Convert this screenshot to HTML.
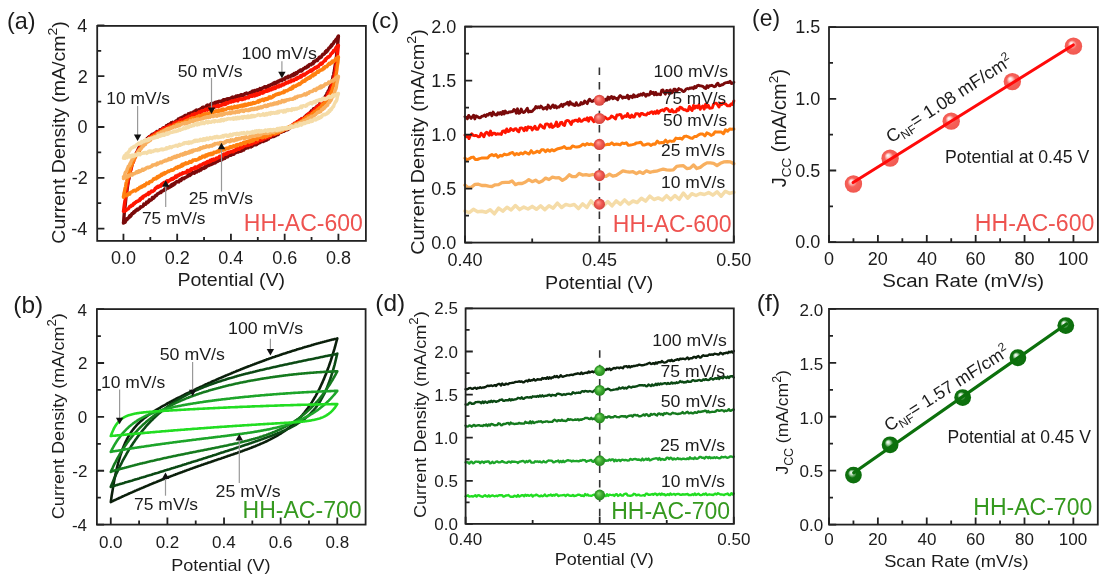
<!DOCTYPE html><html><head><meta charset="utf-8"><style>html,body{margin:0;padding:0;background:#fff;width:1116px;height:585px;overflow:hidden}svg{display:block;filter:blur(0.35px)}text{font-family:"Liberation Sans", sans-serif}</style></head><body>
<svg width="1116" height="585" viewBox="0 0 1116 585">
<defs>
<radialGradient id="grs" cx="0.5" cy="0.5" r="0.5" fx="0.38" fy="0.32"><stop offset="0" stop-color="#ffa59c"/><stop offset="0.55" stop-color="#f25a52"/><stop offset="1" stop-color="#d2443e"/></radialGradient>
<radialGradient id="gr" cx="0.5" cy="0.5" r="0.5" fx="0.36" fy="0.33"><stop offset="0" stop-color="#ffffff"/><stop offset="0.2" stop-color="#fdd4d0"/><stop offset="0.52" stop-color="#f6625a"/><stop offset="1" stop-color="#f15850"/></radialGradient>
<radialGradient id="ggs" cx="0.5" cy="0.5" r="0.5" fx="0.38" fy="0.32"><stop offset="0" stop-color="#86e070"/><stop offset="0.55" stop-color="#3daa30"/><stop offset="1" stop-color="#23861d"/></radialGradient>
<radialGradient id="gg" cx="0.5" cy="0.5" r="0.5" fx="0.36" fy="0.33"><stop offset="0" stop-color="#ffffff"/><stop offset="0.2" stop-color="#c0e0c0"/><stop offset="0.5" stop-color="#0f720f"/><stop offset="1" stop-color="#0c6e0c"/></radialGradient>
</defs>
<rect width="1116" height="585" fill="#fff"/>
<path d="M123.5 223.1L124.0 216.6L124.5 210.2L125.1 205.8L125.6 200.8L126.1 196.1L126.7 192.7L127.2 188.2L127.8 184.4L128.3 180.9L128.8 179.1L129.4 175.9L129.9 173.6L130.4 169.9L131.0 167.9L131.5 166.9L132.1 163.3L132.6 161.5L133.1 160.4L133.7 158.9L134.2 158.2L134.7 157.1L135.3 154.9L135.8 154.5L136.3 153.2L136.9 152.0L137.4 151.4L138.0 149.7L138.5 148.8L139.0 147.3L139.6 147.1L140.1 146.1L140.6 145.6L141.2 144.7L141.7 144.4L142.3 144.1L142.8 142.2L143.3 141.6L143.9 141.4L144.4 141.1L144.9 141.2L145.5 140.9L146.0 140.3L146.6 140.2L147.1 138.6L147.6 138.8L148.2 137.6L148.7 138.0L149.2 136.5L149.8 136.3L150.3 137.5L150.9 136.7L151.4 135.1L151.9 135.5L152.5 134.2L153.0 134.9L153.5 135.1L154.1 133.8L154.6 133.2L155.2 133.7L155.7 133.7L156.2 132.9L156.8 131.5L157.3 131.5L157.8 132.3L158.4 131.7L158.9 131.7L159.5 131.4L160.0 129.8L160.5 130.6L161.1 129.6L161.6 129.4L162.1 129.6L162.7 128.3L163.2 129.0L163.8 127.8L164.3 128.4L164.8 127.5L165.4 127.6L165.9 127.2L166.4 125.6L167.0 125.6L167.5 126.2L168.1 124.8L168.6 125.7L169.1 125.1L169.7 124.0L170.2 124.1L170.7 124.7L171.3 122.8L171.8 123.9L172.4 123.5L172.9 122.3L173.4 122.8L174.0 122.6L174.5 122.7L175.0 122.3L175.6 121.2L176.1 121.5L176.7 120.6L177.2 120.7L177.7 120.2L178.3 119.1L178.8 119.6L179.3 119.2L179.9 118.4L180.4 119.3L181.0 119.1L181.5 117.4L182.0 117.3L182.6 118.1L183.1 117.9L183.6 116.6L184.2 116.0L184.7 117.1L185.3 115.4L185.8 115.3L186.3 115.5L186.9 115.6L187.4 115.9L187.9 115.7L188.5 113.8L189.0 114.8L189.6 113.7L190.1 114.3L190.6 113.0L191.2 113.2L191.7 113.4L192.2 113.4L192.8 112.2L193.3 113.1L193.9 112.5L194.4 111.7L194.9 110.9L195.5 111.1L196.0 111.4L196.5 110.1L197.1 111.1L197.6 111.2L198.2 110.5L198.7 109.9L199.2 110.4L199.8 109.9L200.3 109.3L200.8 108.7L201.4 109.3L201.9 108.6L202.4 107.5L203.0 107.1L203.5 107.4L204.1 107.1L204.6 107.1L205.1 107.7L205.7 107.6L206.2 107.4L206.7 105.6L207.3 105.8L207.8 105.1L208.4 106.6L208.9 105.3L209.4 105.3L210.0 104.7L210.5 105.2L211.0 103.8L211.6 105.3L212.1 104.2L212.7 103.7L213.2 103.2L213.7 103.3L214.3 103.2L214.8 102.8L215.3 102.4L215.9 103.3L216.4 102.5L217.0 101.9L217.5 101.8L218.0 102.4L218.6 101.6L219.1 101.3L219.6 101.6L220.2 101.4L220.7 101.6L221.3 101.1L221.8 100.9L222.3 101.7L222.9 100.5L223.4 99.7L223.9 99.7L224.5 99.8L225.0 100.3L225.6 99.5L226.1 99.6L226.6 99.7L227.2 98.9L227.7 100.0L228.2 98.7L228.8 99.8L229.3 98.6L229.9 98.7L230.4 99.0L230.9 98.0L231.5 98.2L232.0 97.8L232.5 97.1L233.1 98.2L233.6 98.5L234.2 97.8L234.7 97.0L235.2 97.7L235.8 97.6L236.3 96.1L236.8 96.4L237.4 96.6L237.9 95.7L238.5 96.5L239.0 95.8L239.5 96.4L240.1 95.9L240.6 95.0L241.1 94.7L241.7 94.6L242.2 95.3L242.8 94.8L243.3 95.1L243.8 95.3L244.4 94.5L244.9 93.7L245.4 93.5L246.0 93.6L246.5 93.0L247.1 94.0L247.6 94.1L248.1 93.4L248.7 93.5L249.2 93.5L249.7 92.9L250.3 92.4L250.8 92.5L251.4 92.6L251.9 91.5L252.4 91.1L253.0 91.8L253.5 92.3L254.0 92.2L254.6 90.5L255.1 91.8L255.7 90.4L256.2 90.5L256.7 90.8L257.3 89.7L257.8 90.9L258.3 90.5L258.9 89.7L259.4 90.3L260.0 88.6L260.5 89.5L261.0 89.5L261.6 89.4L262.1 88.2L262.6 88.3L263.2 87.8L263.7 87.5L264.3 87.0L264.8 86.6L265.3 86.8L265.9 87.5L266.4 86.8L266.9 87.1L267.5 87.2L268.0 86.1L268.5 85.5L269.1 86.2L269.6 85.8L270.2 85.5L270.7 84.6L271.2 84.7L271.8 84.3L272.3 83.9L272.8 84.3L273.4 83.3L273.9 82.9L274.5 84.1L275.0 82.4L275.5 82.5L276.1 83.4L276.6 82.6L277.1 82.0L277.7 81.3L278.2 82.0L278.8 81.4L279.3 80.6L279.8 80.5L280.4 80.0L280.9 80.6L281.4 80.1L282.0 80.6L282.5 79.4L283.1 79.0L283.6 79.1L284.1 78.7L284.7 79.3L285.2 77.9L285.7 77.5L286.3 77.2L286.8 77.8L287.4 77.1L287.9 77.6L288.4 76.3L289.0 76.2L289.5 76.8L290.0 77.0L290.6 76.1L291.1 75.7L291.7 75.0L292.2 75.3L292.7 75.8L293.3 74.2L293.8 75.2L294.3 73.6L294.9 74.5L295.4 73.9L296.0 72.8L296.5 73.7L297.0 73.4L297.6 72.4L298.1 71.8L298.6 71.3L299.2 71.2L299.7 70.5L300.3 71.0L300.8 69.9L301.3 71.1L301.9 70.5L302.4 69.7L302.9 69.8L303.5 68.7L304.0 68.5L304.6 68.4L305.1 67.5L305.6 67.7L306.2 67.8L306.7 67.3L307.2 66.2L307.8 65.7L308.3 66.6L308.9 65.1L309.4 64.5L309.9 65.0L310.5 64.5L311.0 64.8L311.5 63.9L312.1 63.5L312.6 63.0L313.2 63.6L313.7 61.6L314.2 62.0L314.8 61.8L315.3 60.7L315.8 60.7L316.4 60.5L316.9 59.7L317.5 60.4L318.0 59.1L318.5 58.9L319.1 57.5L319.6 57.1L320.1 57.8L320.7 57.0L321.2 57.1L321.8 56.1L322.3 54.9L322.8 54.2L323.4 54.4L323.9 54.2L324.4 53.9L325.0 52.6L325.5 51.4L326.1 52.3L326.6 50.5L327.1 51.3L327.7 50.4L328.2 49.7L328.7 48.3L329.3 48.3L329.8 47.6L330.4 46.5L330.9 46.8L331.4 45.0L332.0 45.4L332.5 44.0L333.0 43.8L333.6 43.2L334.1 41.9L334.7 41.4L335.2 40.8L335.7 40.0L336.3 39.1L336.8 39.0L337.3 38.2L337.9 36.7L338.4 36.0L338.4 36.2L337.9 42.1L337.3 48.3L336.8 52.9L336.3 58.6L335.7 61.8L335.2 65.3L334.7 68.4L334.1 72.4L333.6 75.1L333.0 76.4L332.5 79.9L332.0 80.5L331.4 82.5L330.9 85.5L330.4 86.8L329.8 87.4L329.3 89.5L328.7 91.0L328.2 90.9L327.7 92.7L327.1 93.0L326.6 95.1L326.1 95.5L325.5 95.9L325.0 97.9L324.4 98.3L323.9 98.2L323.4 98.6L322.8 99.1L322.3 101.3L321.8 101.3L321.2 101.5L320.7 102.5L320.1 102.8L319.6 104.3L319.1 105.1L318.5 105.6L318.0 106.3L317.5 105.9L316.9 106.5L316.4 106.9L315.8 108.2L315.3 108.6L314.8 109.1L314.2 108.5L313.7 108.7L313.2 109.3L312.6 111.3L312.1 111.8L311.5 110.7L311.0 112.0L310.5 112.0L309.9 113.2L309.4 113.4L308.9 113.8L308.3 114.4L307.8 114.5L307.2 116.0L306.7 115.2L306.2 115.4L305.6 117.0L305.1 117.0L304.6 116.9L304.0 117.9L303.5 118.7L302.9 119.1L302.4 118.9L301.9 120.2L301.3 119.0L300.8 119.6L300.3 120.2L299.7 120.3L299.2 121.1L298.6 121.9L298.1 121.9L297.6 122.4L297.0 122.0L296.5 122.6L296.0 124.0L295.4 123.2L294.9 123.8L294.3 124.1L293.8 124.4L293.3 125.5L292.7 124.9L292.2 125.3L291.7 126.0L291.1 126.2L290.6 126.5L290.0 127.5L289.5 127.2L289.0 128.7L288.4 128.5L287.9 128.6L287.4 129.7L286.8 129.4L286.3 129.2L285.7 129.6L285.2 130.6L284.7 129.6L284.1 130.4L283.6 131.3L283.1 131.0L282.5 131.4L282.0 131.8L281.4 132.3L280.9 131.5L280.4 132.4L279.8 132.6L279.3 132.8L278.8 132.7L278.2 134.6L277.7 133.8L277.1 133.9L276.6 135.0L276.1 135.0L275.5 135.9L275.0 135.9L274.5 135.8L273.9 136.6L273.4 136.6L272.8 135.7L272.3 136.6L271.8 136.9L271.2 136.3L270.7 137.3L270.2 136.8L269.6 137.6L269.1 137.6L268.5 139.1L268.0 138.5L267.5 138.4L266.9 139.9L266.4 138.6L265.9 140.2L265.3 139.9L264.8 140.7L264.3 140.3L263.7 140.4L263.2 141.6L262.6 140.2L262.1 141.4L261.6 141.4L261.0 141.6L260.5 142.2L260.0 142.6L259.4 142.2L258.9 142.6L258.3 143.3L257.8 142.7L257.3 143.7L256.7 144.5L256.2 144.3L255.7 144.9L255.1 144.9L254.6 144.1L254.0 144.9L253.5 144.3L253.0 144.8L252.4 146.2L251.9 144.8L251.4 145.1L250.8 146.9L250.3 145.7L249.7 146.7L249.2 146.9L248.7 146.2L248.1 147.8L247.6 147.5L247.1 147.0L246.5 147.6L246.0 148.3L245.4 147.6L244.9 148.1L244.4 148.7L243.8 149.9L243.3 149.2L242.8 149.7L242.2 150.4L241.7 150.9L241.1 150.3L240.6 151.2L240.1 150.9L239.5 150.7L239.0 151.4L238.5 151.9L237.9 151.6L237.4 152.1L236.8 151.7L236.3 152.4L235.8 151.8L235.2 152.1L234.7 152.7L234.2 153.9L233.6 154.3L233.1 153.2L232.5 153.6L232.0 154.1L231.5 154.9L230.9 155.2L230.4 154.8L229.9 155.2L229.3 155.4L228.8 155.6L228.2 155.6L227.7 156.8L227.2 157.0L226.6 155.9L226.1 156.3L225.6 156.6L225.0 158.3L224.5 158.5L223.9 158.4L223.4 158.4L222.9 158.3L222.3 159.5L221.8 158.9L221.3 160.0L220.7 160.3L220.2 159.5L219.6 159.9L219.1 160.0L218.6 160.8L218.0 160.8L217.5 161.6L217.0 161.6L216.4 161.1L215.9 161.2L215.3 162.8L214.8 163.0L214.3 162.0L213.7 162.6L213.2 162.6L212.7 163.9L212.1 163.8L211.6 164.3L211.0 163.6L210.5 164.7L210.0 164.4L209.4 164.1L208.9 165.5L208.4 165.4L207.8 165.3L207.3 165.3L206.7 166.4L206.2 166.8L205.7 167.5L205.1 166.4L204.6 168.1L204.1 168.4L203.5 167.8L203.0 168.2L202.4 168.1L201.9 169.1L201.4 168.5L200.8 170.0L200.3 170.1L199.8 169.6L199.2 170.9L198.7 170.7L198.2 170.3L197.6 170.6L197.1 171.6L196.5 172.1L196.0 172.0L195.5 171.6L194.9 172.6L194.4 173.3L193.9 172.5L193.3 173.0L192.8 172.7L192.2 172.9L191.7 173.3L191.2 174.4L190.6 174.0L190.1 175.2L189.6 175.5L189.0 175.6L188.5 174.9L187.9 175.3L187.4 176.7L186.9 176.8L186.3 177.1L185.8 177.4L185.3 177.6L184.7 177.9L184.2 178.6L183.6 178.2L183.1 178.1L182.6 178.9L182.0 178.6L181.5 179.4L181.0 180.4L180.4 179.7L179.9 179.8L179.3 181.1L178.8 181.9L178.3 181.3L177.7 181.6L177.2 181.9L176.7 181.5L176.1 182.4L175.6 182.4L175.0 184.0L174.5 183.5L174.0 183.4L173.4 185.0L172.9 185.3L172.4 184.5L171.8 184.5L171.3 186.3L170.7 185.7L170.2 186.9L169.7 186.1L169.1 186.7L168.6 187.7L168.1 188.1L167.5 187.5L167.0 188.3L166.4 188.2L165.9 189.2L165.4 189.7L164.8 188.9L164.3 189.8L163.8 190.5L163.2 190.8L162.7 190.8L162.1 191.2L161.6 191.2L161.1 192.5L160.5 192.1L160.0 192.8L159.5 192.8L158.9 193.3L158.4 193.6L157.8 193.9L157.3 194.1L156.8 195.1L156.2 195.6L155.7 195.7L155.2 195.9L154.6 197.0L154.1 197.4L153.5 198.2L153.0 197.6L152.5 197.5L151.9 199.0L151.4 199.8L150.9 200.1L150.3 200.1L149.8 200.7L149.2 199.9L148.7 201.9L148.2 201.9L147.6 202.6L147.1 202.0L146.6 202.2L146.0 203.7L145.5 204.3L144.9 204.0L144.4 204.2L143.9 204.0L143.3 205.9L142.8 206.2L142.3 206.5L141.7 206.8L141.2 207.2L140.6 206.8L140.1 207.4L139.6 208.5L139.0 208.9L138.5 209.2L138.0 209.8L137.4 209.1L136.9 210.4L136.3 210.4L135.8 210.3L135.3 211.4L134.7 212.2L134.2 211.6L133.7 212.0L133.1 213.5L132.6 213.7L132.1 213.5L131.5 214.8L131.0 215.8L130.4 216.6L129.9 215.6L129.4 216.4L128.8 217.7L128.3 218.0L127.8 218.5L127.2 219.5L126.7 218.8L126.1 219.9L125.6 221.2L125.1 222.2L124.5 221.9L124.0 222.7L123.5 222.5" stroke="#7A0A0A" stroke-width="3.40" fill="none" stroke-linejoin="round" stroke-linecap="round"/>
<path d="M123.5 211.4L124.0 207.2L124.5 203.8L125.1 199.9L125.6 195.9L126.1 192.6L126.7 188.2L127.2 185.8L127.8 182.7L128.3 179.4L128.8 178.2L129.4 175.3L129.9 173.7L130.4 170.5L131.0 169.9L131.5 166.5L132.1 164.7L132.6 163.1L133.1 162.8L133.7 161.0L134.2 158.7L134.7 158.5L135.3 156.5L135.8 155.4L136.3 153.4L136.9 152.9L137.4 151.4L138.0 151.4L138.5 149.6L139.0 149.4L139.6 147.7L140.1 148.3L140.6 146.3L141.2 146.6L141.7 145.3L142.3 144.7L142.8 144.7L143.3 142.9L143.9 143.2L144.4 142.6L144.9 142.5L145.5 141.6L146.0 140.8L146.6 139.8L147.1 140.0L147.6 138.9L148.2 139.5L148.7 138.6L149.2 138.0L149.8 136.7L150.3 136.5L150.9 136.4L151.4 137.2L151.9 136.2L152.5 135.2L153.0 135.7L153.5 134.8L154.1 134.6L154.6 135.0L155.2 133.0L155.7 133.0L156.2 133.7L156.8 132.6L157.3 132.9L157.8 132.4L158.4 131.8L158.9 131.9L159.5 131.6L160.0 131.2L160.5 130.4L161.1 130.8L161.6 130.6L162.1 129.4L162.7 129.8L163.2 128.4L163.8 128.8L164.3 128.2L164.8 128.6L165.4 127.4L165.9 128.5L166.4 128.1L167.0 127.9L167.5 126.6L168.1 126.2L168.6 126.9L169.1 126.2L169.7 125.2L170.2 125.4L170.7 126.0L171.3 125.5L171.8 125.3L172.4 125.1L172.9 124.4L173.4 124.7L174.0 122.9L174.5 123.5L175.0 123.1L175.6 122.6L176.1 122.2L176.7 121.8L177.2 122.3L177.7 122.2L178.3 121.8L178.8 122.2L179.3 121.3L179.9 120.5L180.4 119.8L181.0 119.9L181.5 119.8L182.0 119.7L182.6 120.5L183.1 119.7L183.6 119.4L184.2 118.6L184.7 119.4L185.3 118.6L185.8 118.2L186.3 117.4L186.9 117.1L187.4 117.3L187.9 117.9L188.5 116.5L189.0 116.1L189.6 116.5L190.1 116.6L190.6 116.1L191.2 116.5L191.7 115.3L192.2 114.5L192.8 115.1L193.3 114.6L193.9 114.1L194.4 115.0L194.9 113.5L195.5 113.8L196.0 114.4L196.5 114.4L197.1 113.9L197.6 113.1L198.2 112.6L198.7 113.1L199.2 111.8L199.8 112.6L200.3 112.2L200.8 112.6L201.4 110.9L201.9 112.1L202.4 110.6L203.0 111.0L203.5 110.8L204.1 110.6L204.6 110.9L205.1 109.5L205.7 109.2L206.2 109.3L206.7 109.5L207.3 110.1L207.8 108.7L208.4 109.5L208.9 108.2L209.4 109.2L210.0 108.4L210.5 107.7L211.0 108.7L211.6 107.9L212.1 108.5L212.7 108.4L213.2 108.0L213.7 106.4L214.3 106.3L214.8 106.6L215.3 107.0L215.9 106.2L216.4 105.9L217.0 106.4L217.5 105.9L218.0 105.3L218.6 106.5L219.1 106.0L219.6 105.4L220.2 105.8L220.7 105.2L221.3 104.7L221.8 105.3L222.3 104.5L222.9 104.8L223.4 104.1L223.9 104.4L224.5 103.6L225.0 104.6L225.6 103.3L226.1 104.1L226.6 102.5L227.2 102.9L227.7 103.0L228.2 103.0L228.8 102.4L229.3 102.2L229.9 101.9L230.4 101.7L230.9 102.1L231.5 101.0L232.0 101.1L232.5 101.0L233.1 101.6L233.6 101.4L234.2 101.0L234.7 100.3L235.2 100.8L235.8 100.6L236.3 100.6L236.8 99.7L237.4 100.5L237.9 100.9L238.5 99.5L239.0 99.1L239.5 99.2L240.1 99.3L240.6 98.9L241.1 99.5L241.7 98.8L242.2 99.6L242.8 99.4L243.3 98.6L243.8 98.4L244.4 98.4L244.9 98.9L245.4 97.6L246.0 97.7L246.5 98.1L247.1 97.8L247.6 97.5L248.1 97.6L248.7 97.7L249.2 96.1L249.7 95.8L250.3 96.2L250.8 95.7L251.4 96.3L251.9 95.4L252.4 96.3L253.0 95.2L253.5 95.4L254.0 94.6L254.6 95.9L255.1 94.4L255.7 95.5L256.2 94.5L256.7 93.6L257.3 95.1L257.8 94.5L258.3 94.3L258.9 94.0L259.4 94.3L260.0 92.6L260.5 92.6L261.0 93.2L261.6 93.0L262.1 92.4L262.6 93.2L263.2 93.0L263.7 91.3L264.3 92.2L264.8 91.6L265.3 90.7L265.9 90.4L266.4 91.1L266.9 91.4L267.5 91.0L268.0 89.7L268.5 89.5L269.1 90.6L269.6 89.2L270.2 89.9L270.7 89.5L271.2 89.8L271.8 88.3L272.3 87.9L272.8 89.1L273.4 88.1L273.9 88.7L274.5 87.3L275.0 88.5L275.5 88.2L276.1 86.9L276.6 87.4L277.1 86.2L277.7 86.0L278.2 86.1L278.8 86.9L279.3 85.7L279.8 85.0L280.4 85.7L280.9 86.1L281.4 85.6L282.0 85.3L282.5 84.3L283.1 85.0L283.6 84.8L284.1 84.5L284.7 83.5L285.2 83.0L285.7 83.6L286.3 82.8L286.8 82.2L287.4 82.5L287.9 82.9L288.4 82.5L289.0 81.2L289.5 81.4L290.0 81.9L290.6 81.0L291.1 81.7L291.7 79.9L292.2 80.6L292.7 80.2L293.3 80.0L293.8 80.6L294.3 79.4L294.9 79.7L295.4 79.5L296.0 78.3L296.5 79.3L297.0 78.7L297.6 77.6L298.1 78.2L298.6 77.9L299.2 77.2L299.7 77.5L300.3 76.0L300.8 75.6L301.3 77.0L301.9 75.9L302.4 75.1L302.9 75.5L303.5 74.3L304.0 74.7L304.6 75.0L305.1 74.0L305.6 73.6L306.2 73.8L306.7 73.0L307.2 72.4L307.8 72.6L308.3 72.3L308.9 71.4L309.4 71.3L309.9 71.3L310.5 70.2L311.0 71.3L311.5 69.9L312.1 70.6L312.6 69.5L313.2 69.8L313.7 69.1L314.2 68.2L314.8 67.8L315.3 67.4L315.8 68.1L316.4 67.3L316.9 67.4L317.5 66.4L318.0 66.1L318.5 66.6L319.1 65.2L319.6 64.6L320.1 64.4L320.7 63.4L321.2 64.2L321.8 63.8L322.3 63.6L322.8 62.3L323.4 61.9L323.9 61.4L324.4 61.2L325.0 59.8L325.5 60.5L326.1 58.5L326.6 58.6L327.1 58.1L327.7 57.1L328.2 57.5L328.7 57.1L329.3 56.3L329.8 56.1L330.4 55.1L330.9 53.9L331.4 53.5L332.0 53.3L332.5 52.2L333.0 52.4L333.6 50.5L334.1 51.0L334.7 50.2L335.2 49.7L335.7 48.1L336.3 47.2L336.8 46.6L337.3 47.3L337.9 46.0L338.4 45.4L338.4 45.6L337.9 50.0L337.3 56.7L336.8 60.4L336.3 64.0L335.7 67.2L335.2 71.9L334.7 74.2L334.1 76.3L333.6 79.9L333.0 81.7L332.5 82.5L332.0 85.6L331.4 86.8L330.9 88.4L330.4 89.6L329.8 91.4L329.3 92.7L328.7 92.1L328.2 93.5L327.7 94.5L327.1 96.3L326.6 97.1L326.1 97.4L325.5 98.7L325.0 99.0L324.4 98.9L323.9 100.6L323.4 101.3L322.8 100.8L322.3 102.0L321.8 103.6L321.2 103.6L320.7 103.7L320.1 105.3L319.6 105.3L319.1 105.2L318.5 105.4L318.0 106.4L317.5 106.4L316.9 107.6L316.4 108.2L315.8 107.9L315.3 109.2L314.8 108.9L314.2 110.4L313.7 110.6L313.2 111.3L312.6 111.1L312.1 112.2L311.5 112.6L311.0 113.0L310.5 113.0L309.9 113.7L309.4 113.9L308.9 113.3L308.3 114.3L307.8 114.3L307.2 115.9L306.7 116.0L306.2 116.9L305.6 116.2L305.1 117.2L304.6 117.8L304.0 118.6L303.5 118.7L302.9 118.9L302.4 119.0L301.9 118.5L301.3 119.2L300.8 120.4L300.3 120.6L299.7 121.3L299.2 120.2L298.6 121.6L298.1 121.2L297.6 121.6L297.0 121.7L296.5 123.6L296.0 123.4L295.4 123.6L294.9 124.4L294.3 123.3L293.8 124.7L293.3 124.2L292.7 124.9L292.2 126.1L291.7 125.8L291.1 126.3L290.6 127.0L290.0 127.1L289.5 126.6L289.0 127.9L288.4 127.7L287.9 127.8L287.4 127.8L286.8 128.8L286.3 128.1L285.7 129.2L285.2 128.6L284.7 129.0L284.1 130.2L283.6 130.3L283.1 130.5L282.5 130.0L282.0 130.8L281.4 131.1L280.9 130.5L280.4 131.9L279.8 132.0L279.3 132.2L278.8 132.6L278.2 133.2L277.7 133.5L277.1 132.6L276.6 133.0L276.1 132.8L275.5 132.7L275.0 134.2L274.5 133.8L273.9 133.6L273.4 135.0L272.8 134.4L272.3 134.7L271.8 134.4L271.2 134.8L270.7 136.2L270.2 135.7L269.6 136.9L269.1 136.5L268.5 136.8L268.0 137.6L267.5 137.2L266.9 137.6L266.4 137.5L265.9 138.1L265.3 138.5L264.8 138.3L264.3 138.4L263.7 139.2L263.2 138.5L262.6 139.5L262.1 140.0L261.6 139.7L261.0 139.8L260.5 140.5L260.0 140.0L259.4 140.0L258.9 140.4L258.3 140.4L257.8 141.8L257.3 141.4L256.7 141.6L256.2 142.4L255.7 142.0L255.1 142.8L254.6 142.3L254.0 142.3L253.5 142.7L253.0 143.2L252.4 143.6L251.9 144.2L251.4 143.8L250.8 143.1L250.3 143.9L249.7 144.6L249.2 144.1L248.7 145.2L248.1 144.9L247.6 144.9L247.1 144.5L246.5 145.7L246.0 145.6L245.4 145.1L244.9 145.7L244.4 146.1L243.8 146.4L243.3 147.0L242.8 147.2L242.2 147.6L241.7 146.9L241.1 147.0L240.6 148.1L240.1 147.4L239.5 149.2L239.0 149.2L238.5 148.8L237.9 149.3L237.4 149.5L236.8 148.6L236.3 150.3L235.8 150.4L235.2 150.6L234.7 150.0L234.2 151.0L233.6 151.7L233.1 150.9L232.5 151.4L232.0 151.9L231.5 151.7L230.9 151.6L230.4 152.0L229.9 152.1L229.3 152.5L228.8 152.2L228.2 152.2L227.7 153.5L227.2 153.8L226.6 153.0L226.1 154.3L225.6 153.8L225.0 154.1L224.5 154.3L223.9 154.0L223.4 154.5L222.9 155.9L222.3 155.3L221.8 155.8L221.3 155.9L220.7 156.5L220.2 156.9L219.6 156.3L219.1 156.9L218.6 157.7L218.0 157.9L217.5 158.0L217.0 158.5L216.4 158.1L215.9 159.1L215.3 159.4L214.8 159.6L214.3 159.8L213.7 159.0L213.2 160.3L212.7 159.9L212.1 159.6L211.6 160.4L211.0 161.2L210.5 160.2L210.0 160.4L209.4 162.1L208.9 162.0L208.4 161.8L207.8 161.5L207.3 162.5L206.7 162.1L206.2 163.2L205.7 162.6L205.1 163.6L204.6 163.8L204.1 163.3L203.5 163.4L203.0 163.7L202.4 164.4L201.9 164.9L201.4 164.6L200.8 165.0L200.3 164.9L199.8 165.2L199.2 166.7L198.7 166.4L198.2 166.2L197.6 167.2L197.1 167.5L196.5 168.1L196.0 167.3L195.5 166.9L194.9 167.1L194.4 168.8L193.9 168.1L193.3 168.8L192.8 168.6L192.2 169.3L191.7 168.6L191.2 168.7L190.6 170.6L190.1 169.7L189.6 171.0L189.0 171.4L188.5 171.2L187.9 170.6L187.4 170.4L186.9 172.2L186.3 172.1L185.8 172.8L185.3 172.2L184.7 172.5L184.2 173.0L183.6 173.3L183.1 172.7L182.6 172.9L182.0 174.1L181.5 174.2L181.0 174.0L180.4 174.0L179.9 173.9L179.3 175.2L178.8 174.9L178.3 175.5L177.7 175.3L177.2 176.7L176.7 176.9L176.1 177.3L175.6 176.1L175.0 177.6L174.5 177.4L174.0 178.4L173.4 178.3L172.9 179.1L172.4 178.4L171.8 179.5L171.3 178.9L170.7 179.8L170.2 180.2L169.7 180.0L169.1 180.5L168.6 181.0L168.1 181.7L167.5 182.0L167.0 180.8L166.4 182.1L165.9 182.9L165.4 183.0L164.8 182.8L164.3 182.2L163.8 183.9L163.2 183.1L162.7 184.1L162.1 184.5L161.6 184.2L161.1 185.3L160.5 186.2L160.0 185.7L159.5 185.8L158.9 186.2L158.4 187.2L157.8 186.4L157.3 186.8L156.8 187.0L156.2 188.3L155.7 188.0L155.2 188.5L154.6 189.8L154.1 190.5L153.5 190.6L153.0 191.0L152.5 191.5L151.9 191.3L151.4 191.0L150.9 192.1L150.3 192.2L149.8 193.4L149.2 193.4L148.7 192.5L148.2 194.5L147.6 194.0L147.1 193.9L146.6 194.3L146.0 194.7L145.5 195.7L144.9 195.4L144.4 195.7L143.9 196.2L143.3 196.2L142.8 198.1L142.3 197.0L141.7 198.4L141.2 198.2L140.6 199.4L140.1 198.6L139.6 200.6L139.0 200.0L138.5 201.0L138.0 201.1L137.4 201.5L136.9 201.3L136.3 201.5L135.8 202.6L135.3 202.5L134.7 203.4L134.2 204.0L133.7 203.3L133.1 204.7L132.6 205.5L132.1 205.5L131.5 205.2L131.0 206.5L130.4 206.0L129.9 206.7L129.4 206.9L128.8 208.2L128.3 208.8L127.8 209.1L127.2 209.2L126.7 209.4L126.1 210.6L125.6 210.1L125.1 210.7L124.5 211.3L124.0 211.3L123.5 211.0" stroke="#FF1500" stroke-width="3.40" fill="none" stroke-linejoin="round" stroke-linecap="round"/>
<path d="M123.5 197.3L124.0 193.2L124.5 191.5L125.1 188.1L125.6 186.8L126.1 182.9L126.7 181.6L127.2 178.5L127.8 177.8L128.3 175.6L128.8 173.2L129.4 172.4L129.9 170.5L130.4 168.2L131.0 166.2L131.5 165.8L132.1 164.7L132.6 163.0L133.1 160.6L133.7 160.9L134.2 158.9L134.7 158.2L135.3 156.7L135.8 156.4L136.3 154.7L136.9 153.3L137.4 152.4L138.0 152.0L138.5 151.3L139.0 150.4L139.6 150.5L140.1 148.4L140.6 148.0L141.2 147.7L141.7 146.7L142.3 146.5L142.8 145.9L143.3 145.6L143.9 144.4L144.4 143.9L144.9 143.4L145.5 143.8L146.0 142.2L146.6 142.0L147.1 141.3L147.6 140.8L148.2 139.8L148.7 140.7L149.2 139.7L149.8 138.4L150.3 138.4L150.9 138.8L151.4 137.6L151.9 136.8L152.5 137.5L153.0 136.3L153.5 137.3L154.1 135.4L154.6 135.9L155.2 136.0L155.7 134.6L156.2 134.7L156.8 133.8L157.3 133.7L157.8 133.4L158.4 133.6L158.9 132.5L159.5 133.8L160.0 132.1L160.5 132.1L161.1 132.6L161.6 131.3L162.1 131.7L162.7 131.3L163.2 130.4L163.8 131.3L164.3 130.9L164.8 130.0L165.4 130.7L165.9 129.6L166.4 128.9L167.0 129.2L167.5 129.4L168.1 128.1L168.6 127.8L169.1 127.7L169.7 127.8L170.2 126.9L170.7 126.9L171.3 127.8L171.8 127.2L172.4 127.4L172.9 127.3L173.4 126.5L174.0 125.3L174.5 125.1L175.0 126.2L175.6 125.8L176.1 125.2L176.7 124.2L177.2 124.4L177.7 123.7L178.3 124.9L178.8 123.1L179.3 124.2L179.9 123.3L180.4 122.6L181.0 122.6L181.5 123.4L182.0 122.3L182.6 122.5L183.1 123.1L183.6 122.3L184.2 122.1L184.7 121.3L185.3 121.8L185.8 121.0L186.3 120.6L186.9 121.3L187.4 121.2L187.9 120.0L188.5 120.2L189.0 120.6L189.6 120.4L190.1 118.8L190.6 119.2L191.2 119.4L191.7 119.5L192.2 117.9L192.8 118.2L193.3 118.0L193.9 118.5L194.4 118.4L194.9 118.0L195.5 118.3L196.0 117.2L196.5 117.4L197.1 116.5L197.6 117.1L198.2 116.8L198.7 116.5L199.2 115.6L199.8 116.5L200.3 115.7L200.8 116.3L201.4 115.5L201.9 115.9L202.4 114.7L203.0 115.5L203.5 114.3L204.1 114.5L204.6 114.7L205.1 113.7L205.7 114.5L206.2 113.7L206.7 113.8L207.3 113.9L207.8 114.4L208.4 113.7L208.9 113.7L209.4 113.3L210.0 112.2L210.5 113.3L211.0 112.4L211.6 112.3L212.1 112.9L212.7 112.5L213.2 112.8L213.7 111.3L214.3 112.3L214.8 111.9L215.3 111.9L215.9 110.9L216.4 110.7L217.0 111.0L217.5 111.0L218.0 111.6L218.6 110.1L219.1 111.4L219.6 110.8L220.2 110.6L220.7 109.9L221.3 109.8L221.8 110.3L222.3 109.2L222.9 109.0L223.4 110.5L223.9 109.3L224.5 109.5L225.0 109.5L225.6 109.2L226.1 109.4L226.6 108.6L227.2 108.6L227.7 107.8L228.2 107.7L228.8 107.6L229.3 108.5L229.9 107.6L230.4 107.8L230.9 107.6L231.5 107.0L232.0 108.5L232.5 107.7L233.1 107.7L233.6 107.1L234.2 107.8L234.7 106.3L235.2 107.6L235.8 107.2L236.3 107.4L236.8 106.9L237.4 106.1L237.9 107.2L238.5 106.9L239.0 106.0L239.5 105.9L240.1 105.6L240.6 106.3L241.1 105.2L241.7 105.2L242.2 105.0L242.8 106.1L243.3 105.3L243.8 106.0L244.4 104.4L244.9 104.1L245.4 104.1L246.0 105.5L246.5 104.8L247.1 104.4L247.6 104.2L248.1 104.9L248.7 103.5L249.2 104.3L249.7 103.8L250.3 104.3L250.8 103.4L251.4 104.1L251.9 104.0L252.4 103.1L253.0 103.4L253.5 102.4L254.0 103.2L254.6 102.7L255.1 103.2L255.7 102.8L256.2 102.2L256.7 101.9L257.3 101.9L257.8 101.1L258.3 102.2L258.9 100.7L259.4 101.8L260.0 100.2L260.5 100.8L261.0 100.8L261.6 100.3L262.1 99.7L262.6 99.3L263.2 100.1L263.7 100.7L264.3 100.2L264.8 98.9L265.3 98.8L265.9 98.7L266.4 99.5L266.9 98.6L267.5 99.3L268.0 99.0L268.5 98.4L269.1 97.0L269.6 97.4L270.2 96.8L270.7 98.1L271.2 97.2L271.8 97.6L272.3 97.1L272.8 97.1L273.4 95.5L273.9 96.3L274.5 95.8L275.0 95.3L275.5 94.6L276.1 94.3L276.6 94.8L277.1 94.7L277.7 93.7L278.2 94.4L278.8 94.3L279.3 93.3L279.8 93.9L280.4 93.5L280.9 93.2L281.4 92.8L282.0 92.8L282.5 92.4L283.1 92.2L283.6 92.6L284.1 91.0L284.7 92.1L285.2 91.1L285.7 90.8L286.3 90.8L286.8 90.9L287.4 90.8L287.9 90.1L288.4 89.9L289.0 89.4L289.5 89.6L290.0 88.4L290.6 88.6L291.1 89.2L291.7 88.2L292.2 87.0L292.7 88.4L293.3 87.1L293.8 86.1L294.3 86.9L294.9 86.2L295.4 86.3L296.0 86.2L296.5 85.3L297.0 85.0L297.6 85.2L298.1 84.6L298.6 84.2L299.2 83.5L299.7 84.4L300.3 84.0L300.8 83.4L301.3 83.0L301.9 81.8L302.4 82.1L302.9 81.0L303.5 81.5L304.0 81.3L304.6 80.3L305.1 81.0L305.6 79.1L306.2 79.0L306.7 79.5L307.2 79.2L307.8 78.0L308.3 77.7L308.9 77.6L309.4 78.3L309.9 76.7L310.5 77.6L311.0 76.2L311.5 76.0L312.1 75.0L312.6 75.1L313.2 75.9L313.7 73.9L314.2 73.9L314.8 73.8L315.3 74.5L315.8 72.9L316.4 73.1L316.9 72.3L317.5 71.4L318.0 71.2L318.5 72.3L319.1 70.7L319.6 71.0L320.1 70.1L320.7 70.4L321.2 69.9L321.8 69.6L322.3 69.8L322.8 69.0L323.4 67.9L323.9 68.8L324.4 68.3L325.0 66.7L325.5 66.6L326.1 66.4L326.6 66.8L327.1 66.4L327.7 65.7L328.2 64.2L328.7 64.5L329.3 63.4L329.8 64.3L330.4 63.6L330.9 62.9L331.4 62.0L332.0 62.9L332.5 61.1L333.0 61.4L333.6 61.8L334.1 60.7L334.7 60.4L335.2 59.4L335.7 58.6L336.3 58.9L336.8 58.1L337.3 58.2L337.9 57.1L338.4 57.9L338.4 56.7L337.9 62.5L337.3 65.9L336.8 70.3L336.3 73.4L335.7 76.7L335.2 79.1L334.7 81.1L334.1 83.4L333.6 85.6L333.0 87.1L332.5 88.3L332.0 90.6L331.4 91.6L330.9 93.1L330.4 93.4L329.8 95.6L329.3 96.0L328.7 97.7L328.2 98.6L327.7 98.6L327.1 99.6L326.6 101.0L326.1 102.0L325.5 101.3L325.0 102.8L324.4 102.8L323.9 103.9L323.4 104.2L322.8 104.8L322.3 104.6L321.8 105.3L321.2 106.6L320.7 107.1L320.1 108.0L319.6 107.6L319.1 109.2L318.5 109.3L318.0 108.8L317.5 110.7L316.9 109.9L316.4 110.6L315.8 111.1L315.3 111.9L314.8 112.6L314.2 111.6L313.7 112.3L313.2 112.6L312.6 114.3L312.1 113.5L311.5 114.9L311.0 115.3L310.5 115.1L309.9 115.3L309.4 116.6L308.9 115.8L308.3 116.5L307.8 116.3L307.2 116.6L306.7 117.4L306.2 118.3L305.6 117.6L305.1 118.3L304.6 119.4L304.0 118.8L303.5 119.3L302.9 120.5L302.4 120.8L301.9 121.6L301.3 121.0L300.8 121.8L300.3 122.0L299.7 122.4L299.2 122.9L298.6 122.6L298.1 123.3L297.6 123.6L297.0 123.9L296.5 123.8L296.0 123.4L295.4 125.0L294.9 124.0L294.3 124.3L293.8 125.0L293.3 125.4L292.7 125.3L292.2 125.9L291.7 126.0L291.1 125.7L290.6 126.3L290.0 127.4L289.5 128.0L289.0 126.7L288.4 128.0L287.9 127.5L287.4 128.7L286.8 128.5L286.3 128.9L285.7 128.5L285.2 128.3L284.7 129.3L284.1 129.5L283.6 130.1L283.1 130.5L282.5 129.4L282.0 131.1L281.4 129.9L280.9 130.6L280.4 131.8L279.8 130.6L279.3 132.2L278.8 131.6L278.2 132.6L277.7 131.2L277.1 132.6L276.6 131.8L276.1 133.5L275.5 132.6L275.0 133.8L274.5 134.1L273.9 133.3L273.4 132.8L272.8 133.5L272.3 133.4L271.8 133.7L271.2 134.3L270.7 135.3L270.2 134.7L269.6 135.5L269.1 135.0L268.5 135.5L268.0 135.4L267.5 136.2L266.9 135.4L266.4 136.1L265.9 136.2L265.3 137.1L264.8 136.5L264.3 136.6L263.7 136.0L263.2 136.9L262.6 137.8L262.1 137.7L261.6 137.8L261.0 137.3L260.5 137.1L260.0 137.2L259.4 137.4L258.9 137.6L258.3 137.9L257.8 137.9L257.3 139.7L256.7 139.0L256.2 139.0L255.7 139.0L255.1 139.3L254.6 139.5L254.0 139.1L253.5 140.7L253.0 140.1L252.4 139.5L251.9 141.3L251.4 141.4L250.8 140.2L250.3 140.2L249.7 142.0L249.2 142.2L248.7 140.9L248.1 141.3L247.6 141.8L247.1 141.9L246.5 141.7L246.0 141.8L245.4 143.4L244.9 143.5L244.4 142.3L243.8 142.2L243.3 142.6L242.8 143.5L242.2 143.8L241.7 144.0L241.1 144.7L240.6 143.5L240.1 144.6L239.5 144.2L239.0 144.5L238.5 145.0L237.9 144.6L237.4 145.1L236.8 145.7L236.3 144.7L235.8 146.1L235.2 146.3L234.7 146.3L234.2 146.1L233.6 145.7L233.1 146.7L232.5 147.1L232.0 146.5L231.5 147.4L230.9 147.1L230.4 147.7L229.9 146.8L229.3 148.2L228.8 148.3L228.2 148.3L227.7 148.5L227.2 147.9L226.6 148.2L226.1 148.2L225.6 148.8L225.0 149.8L224.5 148.8L223.9 149.9L223.4 150.1L222.9 149.9L222.3 149.1L221.8 150.4L221.3 150.6L220.7 149.8L220.2 149.8L219.6 151.1L219.1 151.7L218.6 150.7L218.0 150.9L217.5 151.9L217.0 151.3L216.4 152.2L215.9 152.6L215.3 152.2L214.8 152.1L214.3 152.8L213.7 152.4L213.2 154.0L212.7 153.3L212.1 153.7L211.6 154.5L211.0 153.2L210.5 154.7L210.0 154.8L209.4 153.8L208.9 153.9L208.4 154.1L207.8 155.4L207.3 154.5L206.7 156.1L206.2 155.3L205.7 155.1L205.1 156.7L204.6 157.0L204.1 156.2L203.5 156.0L203.0 156.5L202.4 156.3L201.9 157.4L201.4 157.8L200.8 158.4L200.3 158.4L199.8 157.4L199.2 159.1L198.7 159.1L198.2 159.0L197.6 159.8L197.1 159.5L196.5 160.0L196.0 160.3L195.5 159.8L194.9 159.9L194.4 160.1L193.9 160.0L193.3 160.6L192.8 160.1L192.2 161.8L191.7 161.8L191.2 162.3L190.6 162.1L190.1 161.5L189.6 161.4L189.0 162.4L188.5 163.2L187.9 163.1L187.4 162.9L186.9 163.6L186.3 162.9L185.8 162.8L185.3 164.0L184.7 163.9L184.2 163.7L183.6 164.6L183.1 165.4L182.6 164.2L182.0 164.4L181.5 166.3L181.0 165.3L180.4 166.1L179.9 167.0L179.3 167.0L178.8 167.2L178.3 166.5L177.7 167.6L177.2 168.2L176.7 168.1L176.1 167.3L175.6 168.1L175.0 168.1L174.5 168.6L174.0 169.4L173.4 169.9L172.9 169.7L172.4 170.4L171.8 170.3L171.3 169.9L170.7 170.6L170.2 170.6L169.7 170.6L169.1 171.4L168.6 171.6L168.1 171.0L167.5 171.8L167.0 172.3L166.4 172.4L165.9 172.8L165.4 173.3L164.8 172.5L164.3 174.0L163.8 173.0L163.2 173.4L162.7 173.7L162.1 175.2L161.6 174.9L161.1 174.4L160.5 175.9L160.0 176.4L159.5 175.7L158.9 176.9L158.4 176.6L157.8 177.7L157.3 176.6L156.8 178.1L156.2 178.7L155.7 178.0L155.2 178.9L154.6 178.9L154.1 179.3L153.5 178.9L153.0 179.9L152.5 180.5L151.9 181.5L151.4 181.0L150.9 181.7L150.3 181.5L149.8 181.7L149.2 182.4L148.7 183.4L148.2 183.0L147.6 183.3L147.1 183.4L146.6 183.1L146.0 184.7L145.5 184.7L144.9 185.7L144.4 184.8L143.9 186.1L143.3 185.4L142.8 185.7L142.3 187.0L141.7 186.2L141.2 187.2L140.6 187.7L140.1 187.7L139.6 187.4L139.0 188.5L138.5 188.8L138.0 189.4L137.4 188.7L136.9 189.6L136.3 190.2L135.8 190.7L135.3 191.0L134.7 190.2L134.2 190.5L133.7 190.5L133.1 190.9L132.6 191.6L132.1 191.7L131.5 192.1L131.0 192.2L130.4 192.5L129.9 193.9L129.4 193.1L128.8 194.3L128.3 194.7L127.8 193.7L127.2 195.6L126.7 195.0L126.1 195.6L125.6 195.1L125.1 195.7L124.5 195.4L124.0 195.7L123.5 196.5" stroke="#FF8010" stroke-width="3.40" fill="none" stroke-linejoin="round" stroke-linecap="round"/>
<path d="M123.5 178.5L124.0 176.1L124.5 175.9L125.1 173.1L125.6 172.1L126.1 171.9L126.7 171.0L127.2 169.0L127.8 167.8L128.3 166.3L128.8 165.9L129.4 165.8L129.9 163.7L130.4 164.0L131.0 161.6L131.5 160.8L132.1 159.9L132.6 158.9L133.1 158.6L133.7 157.1L134.2 156.8L134.7 156.3L135.3 155.7L135.8 155.0L136.3 154.9L136.9 153.9L137.4 152.1L138.0 152.4L138.5 151.0L139.0 150.1L139.6 149.6L140.1 149.3L140.6 149.1L141.2 148.6L141.7 148.1L142.3 146.7L142.8 146.1L143.3 145.1L143.9 145.7L144.4 144.1L144.9 143.6L145.5 144.2L146.0 142.5L146.6 142.6L147.1 141.5L147.6 141.4L148.2 141.7L148.7 141.4L149.2 140.5L149.8 140.2L150.3 140.5L150.9 138.7L151.4 138.8L151.9 138.6L152.5 137.7L153.0 138.2L153.5 137.9L154.1 136.8L154.6 137.1L155.2 136.6L155.7 136.7L156.2 136.4L156.8 135.5L157.3 134.9L157.8 133.8L158.4 134.0L158.9 134.1L159.5 133.8L160.0 133.8L160.5 133.1L161.1 131.9L161.6 133.1L162.1 132.3L162.7 131.5L163.2 131.1L163.8 131.2L164.3 130.8L164.8 130.0L165.4 129.8L165.9 130.7L166.4 129.9L167.0 128.9L167.5 129.5L168.1 129.8L168.6 128.6L169.1 129.6L169.7 129.2L170.2 128.3L170.7 128.5L171.3 127.5L171.8 127.3L172.4 127.8L172.9 126.8L173.4 126.8L174.0 126.5L174.5 126.7L175.0 126.6L175.6 126.9L176.1 126.1L176.7 125.0L177.2 125.0L177.7 126.3L178.3 126.0L178.8 125.5L179.3 124.6L179.9 124.8L180.4 125.2L181.0 124.5L181.5 124.1L182.0 123.6L182.6 124.0L183.1 123.4L183.6 123.2L184.2 123.1L184.7 124.0L185.3 122.6L185.8 123.5L186.3 123.5L186.9 122.6L187.4 123.3L187.9 123.0L188.5 122.3L189.0 122.0L189.6 122.5L190.1 120.8L190.6 120.9L191.2 121.4L191.7 121.0L192.2 121.4L192.8 120.1L193.3 121.4L193.9 121.0L194.4 121.0L194.9 119.7L195.5 120.2L196.0 120.2L196.5 120.1L197.1 119.1L197.6 120.1L198.2 119.0L198.7 119.0L199.2 119.4L199.8 119.4L200.3 119.1L200.8 119.0L201.4 119.1L201.9 118.4L202.4 118.7L203.0 118.7L203.5 117.8L204.1 118.2L204.6 118.1L205.1 117.2L205.7 117.9L206.2 117.9L206.7 116.8L207.3 116.6L207.8 116.8L208.4 117.4L208.9 116.8L209.4 116.5L210.0 117.2L210.5 116.3L211.0 115.8L211.6 116.2L212.1 116.1L212.7 116.4L213.2 115.9L213.7 116.5L214.3 115.5L214.8 115.8L215.3 114.9L215.9 115.9L216.4 115.1L217.0 116.3L217.5 115.5L218.0 114.7L218.6 115.5L219.1 114.8L219.6 115.4L220.2 115.0L220.7 113.8L221.3 115.1L221.8 113.8L222.3 115.2L222.9 114.1L223.4 113.6L223.9 113.5L224.5 114.2L225.0 113.7L225.6 113.4L226.1 113.2L226.6 113.2L227.2 113.4L227.7 113.8L228.2 112.9L228.8 113.1L229.3 113.0L229.9 112.1L230.4 113.6L230.9 112.3L231.5 113.0L232.0 112.2L232.5 111.7L233.1 112.8L233.6 112.2L234.2 112.2L234.7 112.2L235.2 112.7L235.8 111.8L236.3 111.2L236.8 111.5L237.4 112.1L237.9 111.1L238.5 111.7L239.0 112.1L239.5 111.1L240.1 111.3L240.6 111.1L241.1 110.2L241.7 110.8L242.2 110.1L242.8 111.1L243.3 110.2L243.8 111.4L244.4 110.9L244.9 110.1L245.4 110.0L246.0 109.7L246.5 110.4L247.1 110.5L247.6 110.2L248.1 109.8L248.7 110.6L249.2 109.9L249.7 109.3L250.3 110.1L250.8 109.7L251.4 108.7L251.9 108.5L252.4 109.6L253.0 109.6L253.5 109.6L254.0 109.6L254.6 108.2L255.1 108.2L255.7 108.9L256.2 108.4L256.7 108.0L257.3 109.0L257.8 107.5L258.3 107.3L258.9 108.3L259.4 107.4L260.0 107.2L260.5 107.8L261.0 106.7L261.6 107.7L262.1 107.1L262.6 107.3L263.2 106.9L263.7 106.1L264.3 106.4L264.8 106.2L265.3 105.4L265.9 106.6L266.4 106.5L266.9 105.6L267.5 106.3L268.0 104.7L268.5 105.7L269.1 105.3L269.6 105.2L270.2 104.3L270.7 104.0L271.2 104.3L271.8 105.0L272.3 104.6L272.8 103.8L273.4 104.5L273.9 103.2L274.5 103.0L275.0 104.0L275.5 103.6L276.1 103.7L276.6 102.7L277.1 103.7L277.7 102.4L278.2 103.4L278.8 101.8L279.3 102.2L279.8 102.0L280.4 102.7L280.9 102.6L281.4 101.9L282.0 100.6L282.5 101.1L283.1 100.5L283.6 101.8L284.1 101.6L284.7 101.5L285.2 100.2L285.7 101.0L286.3 100.6L286.8 99.8L287.4 99.6L287.9 100.1L288.4 99.7L289.0 99.8L289.5 99.2L290.0 99.4L290.6 99.3L291.1 99.3L291.7 99.1L292.2 99.0L292.7 99.3L293.3 98.6L293.8 98.0L294.3 98.4L294.9 98.5L295.4 97.0L296.0 97.5L296.5 97.3L297.0 97.5L297.6 96.3L298.1 96.3L298.6 96.4L299.2 96.1L299.7 95.9L300.3 96.1L300.8 96.0L301.3 95.9L301.9 95.5L302.4 95.4L302.9 95.1L303.5 94.9L304.0 94.2L304.6 93.8L305.1 94.8L305.6 95.0L306.2 94.2L306.7 94.5L307.2 92.9L307.8 93.0L308.3 93.4L308.9 93.3L309.4 91.9L309.9 91.7L310.5 91.8L311.0 91.5L311.5 91.2L312.1 91.5L312.6 91.3L313.2 90.8L313.7 90.0L314.2 89.5L314.8 89.4L315.3 89.3L315.8 90.4L316.4 89.8L316.9 88.2L317.5 88.7L318.0 88.5L318.5 88.6L319.1 87.3L319.6 87.7L320.1 86.5L320.7 87.9L321.2 86.0L321.8 87.4L322.3 86.9L322.8 86.2L323.4 85.5L323.9 86.1L324.4 85.0L325.0 84.1L325.5 84.7L326.1 83.8L326.6 83.8L327.1 83.5L327.7 83.9L328.2 83.1L328.7 82.0L329.3 82.1L329.8 82.6L330.4 81.9L330.9 81.4L331.4 81.4L332.0 80.7L332.5 80.2L333.0 81.0L333.6 80.3L334.1 79.2L334.7 79.6L335.2 79.5L335.7 77.9L336.3 78.3L336.8 76.9L337.3 77.2L337.9 77.6L338.4 76.3L338.4 77.0L337.9 78.9L337.3 81.8L336.8 84.1L336.3 87.5L335.7 89.5L335.2 89.9L334.7 92.6L334.1 94.0L333.6 95.6L333.0 96.6L332.5 97.2L332.0 97.4L331.4 99.5L330.9 100.5L330.4 100.3L329.8 102.2L329.3 102.2L328.7 102.9L328.2 103.0L327.7 105.2L327.1 104.9L326.6 105.8L326.1 105.6L325.5 107.1L325.0 106.8L324.4 108.3L323.9 108.2L323.4 107.8L322.8 109.6L322.3 109.9L321.8 109.2L321.2 110.1L320.7 111.6L320.1 111.8L319.6 112.1L319.1 112.4L318.5 111.8L318.0 112.4L317.5 112.3L316.9 113.2L316.4 113.6L315.8 114.4L315.3 114.2L314.8 114.9L314.2 116.0L313.7 115.6L313.2 116.1L312.6 116.2L312.1 117.4L311.5 117.7L311.0 116.3L310.5 117.7L309.9 118.1L309.4 118.8L308.9 118.3L308.3 118.0L307.8 119.6L307.2 119.3L306.7 119.6L306.2 119.4L305.6 120.1L305.1 120.9L304.6 121.3L304.0 120.6L303.5 122.1L302.9 120.9L302.4 122.7L301.9 122.7L301.3 122.4L300.8 122.0L300.3 122.7L299.7 122.7L299.2 122.9L298.6 123.2L298.1 124.7L297.6 123.5L297.0 125.0L296.5 125.2L296.0 125.6L295.4 125.9L294.9 124.6L294.3 125.7L293.8 126.4L293.3 126.7L292.7 125.5L292.2 126.1L291.7 125.8L291.1 127.5L290.6 127.6L290.0 127.5L289.5 127.8L289.0 128.1L288.4 128.2L287.9 127.6L287.4 128.6L286.8 128.8L286.3 128.3L285.7 128.7L285.2 129.3L284.7 128.7L284.1 129.0L283.6 129.4L283.1 129.4L282.5 130.3L282.0 129.4L281.4 130.3L280.9 130.2L280.4 130.9L279.8 129.5L279.3 130.2L278.8 130.7L278.2 130.5L277.7 130.0L277.1 131.5L276.6 131.2L276.1 130.8L275.5 131.5L275.0 131.0L274.5 130.8L273.9 132.4L273.4 132.1L272.8 132.2L272.3 131.5L271.8 131.6L271.2 131.9L270.7 131.6L270.2 133.0L269.6 132.8L269.1 132.1L268.5 132.3L268.0 133.6L267.5 132.2L266.9 132.7L266.4 132.6L265.9 133.6L265.3 133.3L264.8 132.7L264.3 133.0L263.7 133.6L263.2 133.2L262.6 133.1L262.1 133.5L261.6 133.9L261.0 133.5L260.5 135.0L260.0 134.7L259.4 134.5L258.9 135.4L258.3 134.3L257.8 135.7L257.3 134.8L256.7 135.5L256.2 135.6L255.7 135.2L255.1 136.0L254.6 135.7L254.0 135.1L253.5 134.9L253.0 136.3L252.4 136.3L251.9 135.8L251.4 136.8L250.8 135.8L250.3 137.0L249.7 136.5L249.2 137.0L248.7 137.7L248.1 137.8L247.6 137.9L247.1 137.5L246.5 137.7L246.0 136.5L245.4 137.3L244.9 138.4L244.4 137.3L243.8 138.3L243.3 138.0L242.8 137.7L242.2 137.5L241.7 137.5L241.1 138.5L240.6 138.8L240.1 138.8L239.5 139.1L239.0 138.4L238.5 139.0L237.9 138.7L237.4 139.8L236.8 138.8L236.3 138.6L235.8 140.1L235.2 139.4L234.7 140.4L234.2 140.7L233.6 140.2L233.1 140.7L232.5 139.8L232.0 140.2L231.5 140.2L230.9 139.8L230.4 141.5L229.9 141.5L229.3 141.8L228.8 141.1L228.2 140.6L227.7 141.0L227.2 141.4L226.6 140.9L226.1 141.9L225.6 142.5L225.0 141.7L224.5 142.9L223.9 142.7L223.4 143.2L222.9 143.0L222.3 143.3L221.8 142.6L221.3 143.5L220.7 142.8L220.2 142.5L219.6 143.5L219.1 144.0L218.6 143.2L218.0 143.2L217.5 143.1L217.0 143.8L216.4 143.9L215.9 143.5L215.3 144.0L214.8 143.6L214.3 145.0L213.7 144.2L213.2 144.6L212.7 145.1L212.1 146.0L211.6 145.3L211.0 145.9L210.5 145.4L210.0 145.7L209.4 145.9L208.9 146.8L208.4 146.8L207.8 146.1L207.3 146.2L206.7 145.8L206.2 146.3L205.7 147.3L205.1 147.2L204.6 147.2L204.1 146.9L203.5 147.8L203.0 147.0L202.4 147.9L201.9 148.2L201.4 148.2L200.8 148.6L200.3 147.7L199.8 149.5L199.2 149.0L198.7 149.8L198.2 148.9L197.6 150.0L197.1 150.2L196.5 149.8L196.0 149.7L195.5 149.6L194.9 150.3L194.4 150.7L193.9 150.8L193.3 150.0L192.8 151.4L192.2 151.9L191.7 150.6L191.2 151.4L190.6 152.2L190.1 152.4L189.6 151.3L189.0 151.7L188.5 153.1L187.9 152.2L187.4 153.2L186.9 152.9L186.3 152.8L185.8 154.0L185.3 152.6L184.7 153.9L184.2 154.4L183.6 153.5L183.1 154.8L182.6 155.1L182.0 154.2L181.5 154.8L181.0 154.2L180.4 154.6L179.9 155.8L179.3 156.3L178.8 155.5L178.3 155.9L177.7 156.4L177.2 155.5L176.7 156.9L176.1 156.4L175.6 157.6L175.0 156.3L174.5 156.4L174.0 157.2L173.4 157.9L172.9 157.4L172.4 157.3L171.8 157.7L171.3 159.2L170.7 158.6L170.2 159.5L169.7 158.9L169.1 158.4L168.6 158.8L168.1 160.1L167.5 159.8L167.0 160.4L166.4 160.8L165.9 160.0L165.4 160.2L164.8 161.2L164.3 161.2L163.8 161.0L163.2 161.1L162.7 161.8L162.1 162.6L161.6 162.9L161.1 162.9L160.5 162.0L160.0 162.8L159.5 162.7L158.9 163.5L158.4 163.7L157.8 164.2L157.3 163.0L156.8 163.9L156.2 165.0L155.7 164.1L155.2 164.6L154.6 164.7L154.1 164.7L153.5 165.2L153.0 164.9L152.5 165.0L151.9 166.2L151.4 166.0L150.9 166.7L150.3 166.9L149.8 167.2L149.2 166.9L148.7 167.6L148.2 167.8L147.6 167.2L147.1 167.5L146.6 167.9L146.0 167.9L145.5 168.9L144.9 168.7L144.4 169.6L143.9 169.7L143.3 170.3L142.8 169.3L142.3 169.3L141.7 170.6L141.2 170.7L140.6 171.4L140.1 171.5L139.6 170.9L139.0 170.7L138.5 172.3L138.0 172.2L137.4 171.6L136.9 172.7L136.3 171.8L135.8 173.0L135.3 173.0L134.7 173.7L134.2 173.7L133.7 173.7L133.1 174.2L132.6 173.6L132.1 175.1L131.5 174.2L131.0 174.1L130.4 175.2L129.9 175.7L129.4 176.0L128.8 176.3L128.3 175.3L127.8 175.8L127.2 177.1L126.7 176.5L126.1 176.5L125.6 177.2L125.1 177.9L124.5 177.4L124.0 177.8L123.5 176.9" stroke="#F8B060" stroke-width="3.40" fill="none" stroke-linejoin="round" stroke-linecap="round"/>
<path d="M123.5 158.2L124.0 156.4L124.5 155.7L125.1 155.5L125.6 155.6L126.1 153.7L126.7 154.3L127.2 152.9L127.8 153.1L128.3 152.5L128.8 151.4L129.4 151.3L129.9 149.3L130.4 149.5L131.0 148.5L131.5 147.9L132.1 147.8L132.6 147.6L133.1 147.4L133.7 146.5L134.2 146.3L134.7 146.8L135.3 145.8L135.8 145.6L136.3 145.1L136.9 144.4L137.4 144.1L138.0 144.0L138.5 143.3L139.0 143.0L139.6 144.0L140.1 143.6L140.6 143.5L141.2 143.1L141.7 141.4L142.3 142.3L142.8 141.8L143.3 141.5L143.9 141.1L144.4 141.4L144.9 140.3L145.5 140.8L146.0 139.7L146.6 139.6L147.1 140.8L147.6 139.6L148.2 140.2L148.7 138.6L149.2 139.9L149.8 139.3L150.3 138.3L150.9 138.4L151.4 138.1L151.9 138.3L152.5 138.0L153.0 138.4L153.5 137.7L154.1 137.9L154.6 137.0L155.2 137.8L155.7 137.6L156.2 137.4L156.8 136.6L157.3 136.4L157.8 137.2L158.4 135.3L158.9 135.4L159.5 136.1L160.0 136.3L160.5 135.0L161.1 134.6L161.6 135.8L162.1 134.6L162.7 134.4L163.2 134.0L163.8 135.2L164.3 135.2L164.8 134.9L165.4 134.7L165.9 133.3L166.4 133.1L167.0 133.8L167.5 134.2L168.1 133.6L168.6 133.7L169.1 132.8L169.7 132.5L170.2 132.2L170.7 132.7L171.3 132.5L171.8 132.3L172.4 132.3L172.9 131.9L173.4 131.4L174.0 131.1L174.5 131.6L175.0 131.0L175.6 131.6L176.1 131.6L176.7 130.8L177.2 130.7L177.7 131.1L178.3 130.8L178.8 130.0L179.3 129.0L179.9 129.0L180.4 130.2L181.0 129.5L181.5 129.3L182.0 129.2L182.6 129.3L183.1 128.3L183.6 127.7L184.2 128.4L184.7 128.5L185.3 128.5L185.8 128.5L186.3 127.0L186.9 127.8L187.4 126.7L187.9 126.4L188.5 127.5L189.0 127.1L189.6 126.8L190.1 125.8L190.6 125.7L191.2 126.3L191.7 125.9L192.2 125.9L192.8 125.5L193.3 124.8L193.9 125.6L194.4 124.5L194.9 124.1L195.5 124.5L196.0 123.8L196.5 123.7L197.1 124.9L197.6 123.3L198.2 124.6L198.7 123.4L199.2 124.4L199.8 124.0L200.3 123.6L200.8 122.8L201.4 123.0L201.9 123.7L202.4 122.4L203.0 122.3L203.5 122.8L204.1 123.6L204.6 123.0L205.1 122.9L205.7 122.6L206.2 121.6L206.7 122.1L207.3 121.6L207.8 122.9L208.4 122.5L208.9 121.5L209.4 122.1L210.0 122.2L210.5 122.4L211.0 122.4L211.6 121.7L212.1 121.3L212.7 121.5L213.2 121.1L213.7 121.5L214.3 122.0L214.8 120.7L215.3 121.2L215.9 120.9L216.4 121.0L217.0 121.1L217.5 121.4L218.0 120.9L218.6 120.8L219.1 121.1L219.6 121.2L220.2 120.3L220.7 121.0L221.3 119.4L221.8 120.3L222.3 120.1L222.9 119.8L223.4 120.7L223.9 120.5L224.5 119.2L225.0 119.5L225.6 119.5L226.1 119.7L226.6 119.0L227.2 119.3L227.7 118.7L228.2 118.6L228.8 118.4L229.3 118.7L229.9 118.7L230.4 119.0L230.9 118.8L231.5 118.7L232.0 118.7L232.5 118.1L233.1 118.0L233.6 119.3L234.2 118.0L234.7 118.2L235.2 118.2L235.8 117.5L236.3 119.0L236.8 118.2L237.4 118.3L237.9 117.2L238.5 118.5L239.0 117.8L239.5 118.4L240.1 117.3L240.6 117.7L241.1 117.2L241.7 117.9L242.2 116.8L242.8 118.3L243.3 117.8L243.8 116.9L244.4 116.5L244.9 116.6L245.4 117.5L246.0 117.7L246.5 116.6L247.1 116.4L247.6 117.6L248.1 115.9L248.7 116.6L249.2 117.4L249.7 116.5L250.3 116.7L250.8 117.1L251.4 115.6L251.9 115.4L252.4 116.8L253.0 116.1L253.5 116.4L254.0 115.6L254.6 116.5L255.1 116.0L255.7 115.8L256.2 115.6L256.7 115.6L257.3 115.3L257.8 114.6L258.3 114.5L258.9 114.5L259.4 114.6L260.0 115.5L260.5 115.4L261.0 115.0L261.6 114.6L262.1 114.6L262.6 114.9L263.2 113.7L263.7 114.8L264.3 115.3L264.8 115.1L265.3 114.8L265.9 113.8L266.4 113.5L266.9 114.8L267.5 114.4L268.0 114.3L268.5 113.3L269.1 113.0L269.6 114.0L270.2 114.2L270.7 112.6L271.2 112.5L271.8 112.9L272.3 113.2L272.8 112.7L273.4 112.5L273.9 112.9L274.5 113.2L275.0 112.7L275.5 112.4L276.1 112.9L276.6 112.2L277.1 113.0L277.7 111.5L278.2 112.7L278.8 112.6L279.3 111.2L279.8 111.1L280.4 111.1L280.9 111.1L281.4 111.0L282.0 111.0L282.5 111.3L283.1 112.1L283.6 110.8L284.1 110.5L284.7 110.4L285.2 111.8L285.7 111.6L286.3 110.3L286.8 110.7L287.4 109.8L287.9 109.5L288.4 110.4L289.0 109.9L289.5 109.8L290.0 109.6L290.6 110.1L291.1 109.5L291.7 110.4L292.2 108.8L292.7 109.0L293.3 108.7L293.8 109.2L294.3 109.5L294.9 108.9L295.4 108.4L296.0 108.5L296.5 109.1L297.0 109.1L297.6 108.3L298.1 108.4L298.6 108.2L299.2 108.1L299.7 107.6L300.3 106.9L300.8 106.3L301.3 106.6L301.9 107.6L302.4 105.9L302.9 106.1L303.5 105.7L304.0 105.8L304.6 106.0L305.1 105.9L305.6 106.2L306.2 104.9L306.7 105.8L307.2 104.5L307.8 103.9L308.3 104.1L308.9 104.0L309.4 103.5L309.9 103.0L310.5 103.1L311.0 102.6L311.5 103.3L312.1 103.9L312.6 102.7L313.2 102.4L313.7 101.8L314.2 102.1L314.8 102.3L315.3 102.8L315.8 101.1L316.4 101.3L316.9 100.5L317.5 101.0L318.0 100.3L318.5 100.3L319.1 99.7L319.6 100.5L320.1 99.5L320.7 100.2L321.2 100.7L321.8 100.0L322.3 99.8L322.8 98.4L323.4 99.3L323.9 99.3L324.4 98.4L325.0 99.3L325.5 98.7L326.1 98.4L326.6 98.7L327.1 97.7L327.7 97.8L328.2 96.9L328.7 97.6L329.3 96.2L329.8 97.4L330.4 96.7L330.9 97.0L331.4 97.2L332.0 96.5L332.5 95.2L333.0 96.1L333.6 95.6L334.1 95.3L334.7 95.6L335.2 94.9L335.7 95.5L336.3 94.8L336.8 94.8L337.3 93.6L337.9 93.5L338.4 93.4L338.4 93.6L337.9 95.1L337.3 97.1L336.8 99.9L336.3 101.2L335.7 101.4L335.2 102.5L334.7 103.3L334.1 104.7L333.6 106.7L333.0 106.8L332.5 107.5L332.0 108.2L331.4 109.7L330.9 108.9L330.4 110.3L329.8 111.2L329.3 110.5L328.7 112.0L328.2 113.0L327.7 112.4L327.1 113.5L326.6 114.0L326.1 114.2L325.5 114.0L325.0 114.8L324.4 114.6L323.9 114.4L323.4 114.6L322.8 115.1L322.3 115.3L321.8 116.8L321.2 116.0L320.7 117.6L320.1 117.0L319.6 118.1L319.1 118.3L318.5 117.1L318.0 118.8L317.5 118.0L316.9 118.5L316.4 119.7L315.8 118.5L315.3 120.0L314.8 118.8L314.2 119.1L313.7 119.9L313.2 120.2L312.6 121.1L312.1 120.2L311.5 121.5L311.0 120.9L310.5 120.4L309.9 121.0L309.4 122.2L308.9 121.3L308.3 121.5L307.8 122.4L307.2 121.8L306.7 122.3L306.2 122.8L305.6 122.8L305.1 123.4L304.6 123.6L304.0 122.7L303.5 123.8L302.9 123.2L302.4 124.1L301.9 124.6L301.3 125.1L300.8 123.5L300.3 124.1L299.7 123.8L299.2 124.7L298.6 125.8L298.1 125.7L297.6 126.1L297.0 125.2L296.5 125.4L296.0 124.9L295.4 126.2L294.9 126.5L294.3 126.6L293.8 126.9L293.3 127.2L292.7 126.5L292.2 126.8L291.7 127.0L291.1 126.1L290.6 127.4L290.0 126.6L289.5 127.2L289.0 128.1L288.4 128.3L287.9 127.4L287.4 127.0L286.8 128.6L286.3 127.5L285.7 128.5L285.2 127.8L284.7 127.6L284.1 127.9L283.6 128.8L283.1 129.1L282.5 127.7L282.0 127.9L281.4 128.0L280.9 128.7L280.4 129.7L279.8 129.2L279.3 128.3L278.8 129.9L278.2 129.5L277.7 130.1L277.1 128.6L276.6 129.7L276.1 130.2L275.5 129.8L275.0 130.1L274.5 129.8L273.9 129.5L273.4 129.5L272.8 130.6L272.3 129.9L271.8 130.8L271.2 130.2L270.7 129.6L270.2 130.6L269.6 129.7L269.1 130.8L268.5 130.5L268.0 129.9L267.5 131.4L266.9 130.4L266.4 130.5L265.9 130.3L265.3 129.9L264.8 130.4L264.3 131.3L263.7 131.4L263.2 131.0L262.6 131.4L262.1 131.0L261.6 131.8L261.0 130.8L260.5 131.4L260.0 132.1L259.4 132.0L258.9 130.6L258.3 130.8L257.8 130.9L257.3 131.8L256.7 130.8L256.2 132.3L255.7 131.4L255.1 131.1L254.6 132.4L254.0 132.9L253.5 132.7L253.0 132.9L252.4 131.6L251.9 132.1L251.4 132.4L250.8 133.1L250.3 132.2L249.7 133.2L249.2 133.2L248.7 132.5L248.1 132.5L247.6 132.3L247.1 132.3L246.5 133.6L246.0 133.4L245.4 133.7L244.9 133.2L244.4 134.1L243.8 132.6L243.3 133.0L242.8 132.9L242.2 133.5L241.7 132.8L241.1 133.0L240.6 133.1L240.1 133.2L239.5 134.3L239.0 134.2L238.5 134.8L237.9 133.6L237.4 134.2L236.8 133.3L236.3 134.6L235.8 134.5L235.2 133.8L234.7 133.6L234.2 134.1L233.6 133.9L233.1 133.9L232.5 135.2L232.0 134.6L231.5 135.7L230.9 134.7L230.4 134.3L229.9 135.1L229.3 135.9L228.8 135.2L228.2 136.1L227.7 135.5L227.2 136.3L226.6 135.8L226.1 135.1L225.6 135.3L225.0 135.2L224.5 136.0L223.9 136.1L223.4 136.9L222.9 135.6L222.3 136.1L221.8 136.5L221.3 137.0L220.7 136.6L220.2 137.3L219.6 137.3L219.1 137.5L218.6 137.0L218.0 137.6L217.5 136.4L217.0 136.9L216.4 136.5L215.9 137.2L215.3 137.9L214.8 137.8L214.3 136.9L213.7 137.5L213.2 137.4L212.7 137.6L212.1 138.7L211.6 138.5L211.0 138.2L210.5 137.6L210.0 137.5L209.4 138.2L208.9 138.9L208.4 139.4L207.8 138.5L207.3 138.9L206.7 138.1L206.2 139.5L205.7 139.6L205.1 140.0L204.6 140.1L204.1 138.8L203.5 138.8L203.0 140.2L202.4 140.5L201.9 139.6L201.4 140.3L200.8 139.8L200.3 139.3L199.8 139.8L199.2 140.7L198.7 140.2L198.2 140.9L197.6 140.2L197.1 141.2L196.5 140.2L196.0 140.7L195.5 140.4L194.9 141.5L194.4 140.5L193.9 141.3L193.3 142.0L192.8 141.5L192.2 142.2L191.7 142.7L191.2 142.9L190.6 142.0L190.1 142.8L189.6 143.2L189.0 142.1L188.5 143.4L187.9 142.4L187.4 143.4L186.9 143.4L186.3 142.5L185.8 142.8L185.3 142.9L184.7 142.8L184.2 143.6L183.6 143.1L183.1 143.8L182.6 144.0L182.0 144.6L181.5 144.6L181.0 144.4L180.4 145.1L179.9 144.6L179.3 144.3L178.8 144.7L178.3 145.7L177.7 146.2L177.2 145.7L176.7 145.8L176.1 145.2L175.6 145.8L175.0 146.0L174.5 146.0L174.0 146.2L173.4 146.1L172.9 146.5L172.4 146.6L171.8 147.3L171.3 147.7L170.7 147.2L170.2 146.6L169.7 146.6L169.1 147.9L168.6 147.5L168.1 147.8L167.5 148.0L167.0 148.7L166.4 147.7L165.9 149.1L165.4 149.0L164.8 149.0L164.3 149.3L163.8 149.4L163.2 149.7L162.7 149.1L162.1 149.8L161.6 149.1L161.1 149.3L160.5 149.4L160.0 149.8L159.5 149.7L158.9 150.4L158.4 150.2L157.8 149.9L157.3 150.8L156.8 150.0L156.2 150.4L155.7 149.8L155.2 150.6L154.6 150.8L154.1 150.5L153.5 151.5L153.0 151.5L152.5 151.5L151.9 151.0L151.4 151.2L150.9 152.2L150.3 151.0L149.8 151.0L149.2 152.0L148.7 151.2L148.2 152.0L147.6 152.5L147.1 153.2L146.6 153.4L146.0 152.5L145.5 152.4L144.9 152.7L144.4 152.5L143.9 153.2L143.3 152.8L142.8 153.2L142.3 153.2L141.7 153.5L141.2 153.4L140.6 153.7L140.1 154.7L139.6 153.8L139.0 153.9L138.5 154.5L138.0 153.6L137.4 154.7L136.9 155.3L136.3 154.9L135.8 155.3L135.3 155.7L134.7 154.6L134.2 156.0L133.7 155.2L133.1 156.3L132.6 155.8L132.1 155.1L131.5 156.8L131.0 155.6L130.4 157.2L129.9 155.6L129.4 155.9L128.8 156.8L128.3 156.6L127.8 157.0L127.2 157.7L126.7 157.5L126.1 157.5L125.6 156.8L125.1 158.3L124.5 157.7L124.0 157.9L123.5 157.9" stroke="#F5DCA8" stroke-width="3.40" fill="none" stroke-linejoin="round" stroke-linecap="round"/>
<path d="M123.45 240.90V233.70M177.19 240.90V233.70M230.93 240.90V233.70M284.67 240.90V233.70M338.41 240.90V233.70M150.32 240.90V236.90M204.06 240.90V236.90M257.80 240.90V236.90M311.54 240.90V236.90M97.20 228.60H104.40M97.20 177.80H104.40M97.20 127.00H104.40M97.20 76.20H104.40M97.20 25.40H104.40M97.20 203.20H101.20M97.20 152.40H101.20M97.20 101.60H101.20M97.20 50.80H101.20" stroke="#222222" stroke-width="1.80" fill="none"/>
<rect x="97.20" y="25.90" width="268.70" height="215.00" stroke="#222222" stroke-width="1.80" fill="none"/>
<text transform="translate(77.30 31.80) scale(1.0000 1)" font-size="18.00" fill="#1c1c1c">4</text>
<text transform="translate(77.71 82.60) scale(1.0000 1)" font-size="18.00" fill="#1c1c1c">2</text>
<text transform="translate(77.48 133.40) scale(1.0000 1)" font-size="18.00" fill="#1c1c1c">0</text>
<text transform="translate(71.72 184.20) scale(1.0000 1)" font-size="18.00" fill="#1c1c1c">-2</text>
<text transform="translate(71.32 235.00) scale(1.0000 1)" font-size="18.00" fill="#1c1c1c">-4</text>
<text transform="translate(110.92 263.60) scale(1.0000 1)" font-size="18.00" fill="#1c1c1c">0.0</text>
<text transform="translate(164.77 263.60) scale(1.0000 1)" font-size="18.00" fill="#1c1c1c">0.2</text>
<text transform="translate(218.31 263.60) scale(1.0000 1)" font-size="18.00" fill="#1c1c1c">0.4</text>
<text transform="translate(272.18 263.60) scale(1.0000 1)" font-size="18.00" fill="#1c1c1c">0.6</text>
<text transform="translate(325.92 263.60) scale(1.0000 1)" font-size="18.00" fill="#1c1c1c">0.8</text>
<text transform="translate(177.43 286.40) scale(1.0883 1)" font-size="18.00" fill="#1c1c1c">Potential (V)</text>
<text transform="translate(6.88 28.50) scale(1.0198 1)" font-size="23.00" fill="#1c1c1c">(a)</text>
<text transform="translate(65.00 243.68) rotate(-90) scale(1.0850 1)" font-size="18.00" fill="#1c1c1c">Current Density (mA/cm<tspan font-size="13.00" dy="-8.50">2</tspan><tspan dy="8.50">)</tspan></text>
<text transform="translate(243.85 230.80) scale(1.0018 1)" font-size="23.00" fill="#EE5350">HH-AC-600</text>
<text transform="translate(241.61 58.50) scale(1.0478 1)" font-size="17.00" fill="#1c1c1c">100 mV/s</text>
<text transform="translate(177.74 76.50) scale(1.0414 1)" font-size="17.00" fill="#1c1c1c">50 mV/s</text>
<text transform="translate(106.35 104.20) scale(1.0219 1)" font-size="17.00" fill="#1c1c1c">10 mV/s</text>
<text transform="translate(188.77 204.30) scale(1.0328 1)" font-size="17.00" fill="#1c1c1c">25 mV/s</text>
<text transform="translate(141.88 223.80) scale(1.0213 1)" font-size="17.00" fill="#1c1c1c">75 mV/s</text>
<path d="M281.90 61.20V72.70" stroke="#999" stroke-width="1.2"/>
<path d="M281.90 78.20L278.20 71.70L285.60 71.70Z" fill="#111"/>
<path d="M211.50 78.00V108.50" stroke="#999" stroke-width="1.2"/>
<path d="M211.50 114.00L207.80 107.50L215.20 107.50Z" fill="#111"/>
<path d="M137.60 106.00V135.50" stroke="#999" stroke-width="1.2"/>
<path d="M137.60 141.00L133.90 134.50L141.30 134.50Z" fill="#111"/>
<path d="M221.50 191.50V148.30" stroke="#999" stroke-width="1.2"/>
<path d="M221.50 142.80L217.80 149.30L225.20 149.30Z" fill="#111"/>
<path d="M165.70 206.90V185.80" stroke="#999" stroke-width="1.2"/>
<path d="M165.70 180.30L162.00 186.80L169.40 186.80Z" fill="#111"/>
<path d="M465.0 116.7L466.2 117.4L467.4 118.6L468.7 115.4L469.9 117.0L471.1 118.4L472.3 116.9L473.6 115.2L474.8 118.9L476.0 115.9L477.2 116.5L478.4 117.3L479.7 117.8L480.9 117.3L482.1 116.1L483.3 116.0L484.5 115.0L485.8 116.4L487.0 114.6L488.2 115.1L489.4 113.4L490.7 113.2L491.9 115.8L493.1 112.1L494.3 114.0L495.5 114.8L496.8 115.0L498.0 112.7L499.2 113.9L500.4 112.5L501.7 114.4L502.9 111.4L504.1 114.0L505.3 111.0L506.5 112.9L507.8 112.9L509.0 111.9L510.2 112.0L511.4 111.7L512.7 111.5L513.9 109.5L515.1 110.3L516.3 113.2L517.5 108.8L518.8 113.3L520.0 112.9L521.2 109.1L522.4 111.6L523.6 112.6L524.9 111.7L526.1 110.0L527.3 108.2L528.5 112.0L529.8 111.1L531.0 111.7L532.2 111.3L533.4 109.9L534.6 108.9L535.9 106.5L537.1 107.9L538.3 106.7L539.5 107.8L540.8 106.1L542.0 107.1L543.2 109.0L544.4 108.2L545.6 107.5L546.9 109.1L548.1 105.1L549.3 107.0L550.5 108.2L551.7 106.7L553.0 105.0L554.2 107.4L555.4 105.7L556.6 107.9L557.9 107.0L559.1 107.1L560.3 105.5L561.5 104.4L562.7 106.5L564.0 104.1L565.2 104.4L566.4 103.5L567.6 102.2L568.9 105.1L570.1 101.8L571.3 104.2L572.5 103.8L573.7 105.2L575.0 105.5L576.2 102.7L577.4 105.1L578.6 105.2L579.9 104.9L581.1 102.5L582.3 104.0L583.5 103.5L584.7 101.0L586.0 102.3L587.2 103.6L588.4 100.9L589.6 99.2L590.8 100.8L592.1 101.5L593.3 100.9L594.5 99.9L595.7 99.1L597.0 99.2L598.2 101.6L599.4 98.9L600.6 102.0L601.8 101.7L603.1 99.7L604.3 101.1L605.5 99.2L606.7 100.3L608.0 97.0L609.2 99.3L610.4 97.3L611.6 96.6L612.8 98.8L614.1 97.1L615.3 98.3L616.5 98.5L617.7 99.7L618.9 97.0L620.2 95.6L621.4 96.5L622.6 98.1L623.8 97.0L625.1 97.6L626.3 97.3L627.5 95.3L628.7 98.8L629.9 96.4L631.2 96.1L632.4 97.7L633.6 94.8L634.8 96.9L636.1 96.0L637.3 96.6L638.5 94.8L639.7 95.4L640.9 94.0L642.2 95.1L643.4 93.3L644.6 94.2L645.8 96.2L647.1 94.2L648.3 95.1L649.5 94.8L650.7 91.5L651.9 93.6L653.2 92.2L654.4 94.8L655.6 92.4L656.8 94.7L658.0 94.0L659.3 94.3L660.5 94.7L661.7 90.3L662.9 89.9L664.2 92.6L665.4 94.1L666.6 90.5L667.8 90.7L669.0 93.5L670.3 89.9L671.5 93.0L672.7 92.1L673.9 89.3L675.2 89.2L676.4 91.6L677.6 90.2L678.8 88.6L680.0 89.4L681.3 89.6L682.5 91.1L683.7 91.5L684.9 90.7L686.1 89.0L687.4 88.5L688.6 89.0L689.8 88.0L691.0 88.2L692.3 87.6L693.5 88.6L694.7 86.4L695.9 87.7L697.1 85.9L698.4 85.2L699.6 85.8L700.8 85.9L702.0 86.2L703.3 86.7L704.5 87.9L705.7 88.5L706.9 85.7L708.1 87.5L709.4 85.6L710.6 85.7L711.8 85.3L713.0 86.0L714.3 86.7L715.5 86.3L716.7 84.2L717.9 83.2L719.1 85.7L720.4 85.6L721.6 84.8L722.8 84.7L724.0 83.6L725.2 82.9L726.5 82.6L727.7 82.3L728.9 82.5L730.1 81.2L731.4 83.5L732.6 83.4L733.8 82.3" stroke="#7A0A0A" stroke-width="2.90" fill="none" stroke-linejoin="round" stroke-linecap="round"/>
<path d="M465.0 135.1L466.3 136.8L467.7 135.6L469.0 138.6L470.4 135.4L471.7 133.8L473.1 135.3L474.4 135.7L475.8 135.4L477.1 135.8L478.4 136.8L479.8 136.5L481.1 133.2L482.5 134.5L483.8 136.8L485.2 133.6L486.5 132.3L487.8 133.1L489.2 135.3L490.5 131.1L491.9 134.9L493.2 133.1L494.6 133.1L495.9 134.5L497.3 133.8L498.6 134.0L499.9 133.9L501.3 134.4L502.6 131.1L504.0 130.8L505.3 132.7L506.7 128.9L508.0 131.5L509.4 131.1L510.7 128.5L512.0 129.7L513.4 130.5L514.7 128.9L516.1 128.7L517.4 130.8L518.8 131.8L520.1 128.2L521.4 127.9L522.8 128.5L524.1 130.8L525.5 127.4L526.8 130.2L528.2 126.8L529.5 127.5L530.9 127.2L532.2 129.9L533.5 128.3L534.9 126.2L536.2 129.2L537.6 129.4L538.9 127.3L540.3 124.8L541.6 125.8L543.0 127.7L544.3 128.2L545.6 124.1L547.0 123.9L548.3 124.5L549.7 126.9L551.0 123.9L552.4 127.5L553.7 126.5L555.0 125.5L556.4 122.0L557.7 126.6L559.1 125.8L560.4 122.7L561.8 122.3L563.1 124.7L564.5 125.5L565.8 121.3L567.1 120.5L568.5 120.6L569.8 122.2L571.2 124.5L572.5 121.0L573.9 121.2L575.2 120.1L576.6 120.3L577.9 121.4L579.2 118.8L580.6 121.3L581.9 121.2L583.3 120.0L584.6 119.0L586.0 119.9L587.3 117.9L588.6 121.2L590.0 117.7L591.3 117.7L592.7 120.2L594.0 121.7L595.4 118.5L596.7 118.3L598.1 116.3L599.4 118.2L600.7 117.2L602.1 116.9L603.4 119.8L604.8 117.0L606.1 118.1L607.5 119.1L608.8 118.6L610.2 118.0L611.5 115.9L612.8 116.7L614.2 117.8L615.5 119.0L616.9 115.0L618.2 115.1L619.6 114.5L620.9 114.6L622.2 118.2L623.6 116.9L624.9 115.8L626.3 116.5L627.6 113.6L629.0 116.7L630.3 117.5L631.7 115.1L633.0 117.0L634.3 117.0L635.7 113.8L637.0 113.7L638.4 113.9L639.7 116.2L641.1 113.5L642.4 113.5L643.8 114.5L645.1 114.8L646.4 115.0L647.8 113.1L649.1 113.6L650.5 112.3L651.8 111.7L653.2 113.6L654.5 111.7L655.8 113.4L657.2 110.7L658.5 113.3L659.9 111.2L661.2 110.3L662.6 109.8L663.9 111.0L665.3 108.9L666.6 108.4L667.9 109.2L669.3 111.3L670.6 111.6L672.0 109.6L673.3 112.1L674.7 111.7L676.0 111.9L677.4 108.9L678.7 110.1L680.0 107.2L681.4 107.6L682.7 108.9L684.1 109.7L685.4 109.7L686.8 110.9L688.1 110.5L689.4 106.4L690.8 109.2L692.1 110.5L693.5 105.4L694.8 108.3L696.2 106.1L697.5 107.6L698.9 104.8L700.2 109.3L701.5 107.1L702.9 106.0L704.2 109.1L705.6 104.3L706.9 107.2L708.3 105.3L709.6 108.2L711.0 108.1L712.3 107.9L713.6 104.1L715.0 103.1L716.3 103.1L717.7 104.9L719.0 107.1L720.4 103.4L721.7 104.6L723.0 103.0L724.4 103.7L725.7 103.9L727.1 105.7L728.4 105.7L729.8 105.9L731.1 103.9L732.5 104.5L733.8 100.9" stroke="#FF1500" stroke-width="2.90" fill="none" stroke-linejoin="round" stroke-linecap="round"/>
<path d="M465.0 158.2L467.1 159.7L469.1 158.9L471.2 157.5L473.3 157.1L475.3 159.4L477.4 159.5L479.5 158.6L481.5 158.1L483.6 158.1L485.7 158.1L487.7 157.9L489.8 155.6L491.9 154.6L493.9 155.7L496.0 154.6L498.1 157.2L500.2 155.3L502.2 156.0L504.3 154.1L506.4 154.8L508.4 154.4L510.5 153.1L512.6 152.5L514.6 154.9L516.7 153.5L518.8 154.6L520.8 152.9L522.9 154.0L525.0 152.1L527.0 153.1L529.1 154.0L531.2 150.7L533.2 153.1L535.3 152.3L537.4 151.2L539.4 152.5L541.5 149.8L543.6 149.7L545.6 151.7L547.7 149.7L549.8 151.3L551.8 149.7L553.9 150.8L556.0 149.7L558.0 148.7L560.1 148.2L562.2 147.7L564.2 146.6L566.3 148.5L568.4 148.2L570.5 148.2L572.5 145.9L574.6 146.7L576.7 146.9L578.7 146.8L580.8 145.9L582.9 144.2L584.9 145.2L587.0 143.6L589.1 144.6L591.1 144.0L593.2 145.0L595.3 144.4L597.3 143.6L599.4 146.0L601.5 144.9L603.5 145.4L605.6 144.9L607.7 144.3L609.7 144.4L611.8 142.9L613.9 144.7L615.9 144.1L618.0 144.3L620.1 144.9L622.1 143.0L624.2 143.6L626.3 142.8L628.3 145.3L630.4 145.0L632.5 144.6L634.6 144.1L636.6 142.9L638.7 142.7L640.8 142.2L642.8 144.9L644.9 144.9L647.0 144.1L649.0 144.0L651.1 145.4L653.2 143.9L655.2 144.2L657.3 141.2L659.4 143.1L661.4 142.5L663.5 142.7L665.6 140.2L667.6 142.4L669.7 140.9L671.8 141.4L673.8 141.0L675.9 138.1L678.0 138.6L680.0 138.2L682.1 139.1L684.2 136.5L686.2 136.1L688.3 136.9L690.4 138.0L692.4 138.4L694.5 136.5L696.6 136.4L698.6 134.8L700.7 133.9L702.8 134.1L704.9 135.8L706.9 132.9L709.0 133.8L711.1 135.4L713.1 134.5L715.2 131.7L717.3 132.1L719.3 132.1L721.4 132.1L723.5 133.7L725.5 129.8L727.6 131.3L729.7 129.0L731.7 129.3L733.8 129.0" stroke="#FF8010" stroke-width="3.00" fill="none" stroke-linejoin="round" stroke-linecap="round"/>
<path d="M465.0 185.1L468.4 187.7L471.7 187.1L475.1 184.3L478.4 184.2L481.8 185.5L485.2 185.4L488.5 186.2L491.9 186.5L495.2 184.8L498.6 184.7L502.0 182.7L505.3 182.4L508.7 182.4L512.0 180.9L515.4 184.6L518.8 183.3L522.1 183.5L525.5 182.0L528.8 179.7L532.2 181.7L535.6 180.2L538.9 182.5L542.3 181.0L545.6 178.1L549.0 179.5L552.4 177.2L555.7 177.8L559.1 177.7L562.4 180.4L565.8 178.3L569.2 174.8L572.5 176.7L575.9 176.6L579.2 173.4L582.6 175.1L586.0 174.6L589.3 175.4L592.7 174.5L596.0 175.3L599.4 175.7L602.8 175.8L606.1 176.3L609.5 174.1L612.8 176.2L616.2 175.4L619.6 173.2L622.9 170.9L626.3 171.7L629.6 172.2L633.0 171.7L636.4 173.6L639.7 171.8L643.1 173.4L646.4 170.8L649.8 172.3L653.2 171.5L656.5 171.2L659.9 170.0L663.2 169.2L666.6 169.8L670.0 170.2L673.3 169.9L676.7 166.3L680.0 165.8L683.4 165.7L686.8 168.6L690.1 168.1L693.5 165.0L696.8 168.5L700.2 167.4L703.6 164.7L706.9 162.9L710.3 162.9L713.6 163.3L717.0 165.5L720.4 163.3L723.7 161.9L727.1 161.7L730.4 161.9L733.8 163.8" stroke="#F8B060" stroke-width="3.30" fill="none" stroke-linejoin="round" stroke-linecap="round"/>
<path d="M465.0 211.1L469.2 212.6L473.4 209.3L477.6 211.8L481.8 211.3L486.0 212.3L490.2 209.8L494.4 213.8L498.6 208.1L502.8 211.1L507.0 207.3L511.2 209.9L515.4 205.5L519.6 209.6L523.8 207.1L528.0 209.0L532.2 206.4L536.4 209.3L540.6 205.9L544.8 209.6L549.0 205.7L553.2 208.2L557.4 203.1L561.6 207.5L565.8 204.4L570.0 205.6L574.2 204.5L578.4 208.6L582.6 203.9L586.8 207.5L591.0 200.9L595.2 205.9L599.4 202.3L603.6 205.7L607.8 201.5L612.0 205.9L616.2 200.9L620.4 204.3L624.6 199.9L628.8 204.0L633.0 201.0L637.2 202.5L641.4 198.2L645.6 201.1L649.8 196.1L654.0 199.5L658.2 197.9L662.4 200.0L666.6 195.7L670.8 199.6L675.0 195.6L679.2 199.3L683.4 193.1L687.6 198.2L691.8 193.7L696.0 195.5L700.2 193.5L704.4 194.5L708.6 192.6L712.8 195.1L717.0 191.8L721.2 196.2L725.4 191.2L729.6 193.4L733.8 192.3" stroke="#F5DCA8" stroke-width="3.50" fill="none" stroke-linejoin="round" stroke-linecap="round"/>
<path d="M599.40 67.50V242.00" stroke="#333" stroke-width="1.6" stroke-dasharray="7.5 6.9"/>
<circle cx="599.40" cy="100.26" r="5.60" fill="url(#grs)"/>
<circle cx="599.40" cy="118.51" r="5.60" fill="url(#grs)"/>
<circle cx="599.40" cy="144.43" r="5.60" fill="url(#grs)"/>
<circle cx="599.40" cy="175.53" r="5.60" fill="url(#grs)"/>
<circle cx="599.40" cy="204.15" r="5.60" fill="url(#grs)"/>
<path d="M465.00 242.60V235.40M599.40 242.60V235.40M733.80 242.60V235.40M532.20 242.60V238.60M666.60 242.60V238.60M465.00 242.60H472.20M465.00 188.60H472.20M465.00 134.60H472.20M465.00 80.60H472.20M465.00 26.60H472.20M465.00 215.60H469.00M465.00 161.60H469.00M465.00 107.60H469.00M465.00 53.60H469.00" stroke="#222222" stroke-width="1.80" fill="none"/>
<rect x="465.00" y="26.60" width="268.80" height="216.00" stroke="#222222" stroke-width="1.80" fill="none"/>
<text transform="translate(431.25 248.80) scale(1.0000 1)" font-size="18.00" fill="#1c1c1c">0.0</text>
<text transform="translate(431.30 194.80) scale(1.0000 1)" font-size="18.00" fill="#1c1c1c">0.5</text>
<text transform="translate(431.25 140.80) scale(1.0000 1)" font-size="18.00" fill="#1c1c1c">1.0</text>
<text transform="translate(431.30 86.80) scale(1.0000 1)" font-size="18.00" fill="#1c1c1c">1.5</text>
<text transform="translate(431.25 32.80) scale(1.0000 1)" font-size="18.00" fill="#1c1c1c">2.0</text>
<text transform="translate(447.47 265.50) scale(1.0000 1)" font-size="18.00" fill="#1c1c1c">0.40</text>
<text transform="translate(581.89 265.50) scale(1.0000 1)" font-size="18.00" fill="#1c1c1c">0.45</text>
<text transform="translate(716.27 265.50) scale(1.0000 1)" font-size="18.00" fill="#1c1c1c">0.50</text>
<text transform="translate(545.03 288.60) scale(1.0925 1)" font-size="18.00" fill="#1c1c1c">Potential (V)</text>
<text transform="translate(371.36 27.90) scale(1.0385 1)" font-size="23.00" fill="#1c1c1c">(c)</text>
<text transform="translate(424.00 254.79) rotate(-90) scale(1.1000 1)" font-size="18.00" fill="#1c1c1c">Current Density (mA/cm<tspan font-size="13.00" dy="-8.50">2</tspan><tspan dy="8.50">)</tspan></text>
<text transform="translate(612.85 232.30) scale(0.9992 1)" font-size="23.00" fill="#EE5350">HH-AC-600</text>
<text transform="translate(653.52 76.60) scale(1.0392 1)" font-size="17.00" fill="#1c1c1c">100 mV/s</text>
<text transform="translate(662.78 104.00) scale(1.0180 1)" font-size="17.00" fill="#1c1c1c">75 mV/s</text>
<text transform="translate(662.95 125.80) scale(1.0299 1)" font-size="17.00" fill="#1c1c1c">50 mV/s</text>
<text transform="translate(661.08 155.60) scale(1.0279 1)" font-size="17.00" fill="#1c1c1c">25 mV/s</text>
<text transform="translate(661.04 188.00) scale(1.0285 1)" font-size="17.00" fill="#1c1c1c">10 mV/s</text>
<circle cx="853.45" cy="183.98" r="8.70" fill="url(#gr)"/>
<circle cx="890.11" cy="158.17" r="8.70" fill="url(#gr)"/>
<circle cx="951.23" cy="121.17" r="8.70" fill="url(#gr)"/>
<circle cx="1012.34" cy="81.59" r="8.70" fill="url(#gr)"/>
<circle cx="1073.45" cy="46.17" r="8.70" fill="url(#gr)"/>
<path d="M853.1 182.6L1073.3 44.9" stroke="#FF0A0A" stroke-width="3.0" stroke-linecap="round"/>
<path d="M829.00 242.20V235.00M877.89 242.20V235.00M926.78 242.20V235.00M975.67 242.20V235.00M1024.56 242.20V235.00M1073.45 242.20V235.00M853.45 242.20V238.20M902.34 242.20V238.20M951.23 242.20V238.20M1000.12 242.20V238.20M1049.01 242.20V238.20M829.00 242.20H836.20M829.00 170.50H836.20M829.00 98.80H836.20M829.00 27.10H836.20M829.00 206.35H833.00M829.00 134.65H833.00M829.00 62.95H833.00" stroke="#222222" stroke-width="1.80" fill="none"/>
<rect x="829.00" y="27.10" width="268.90" height="215.10" stroke="#222222" stroke-width="1.80" fill="none"/>
<text transform="translate(795.25 248.20) scale(1.0000 1)" font-size="18.00" fill="#1c1c1c">0.0</text>
<text transform="translate(795.30 176.50) scale(1.0000 1)" font-size="18.00" fill="#1c1c1c">0.5</text>
<text transform="translate(795.25 104.80) scale(1.0000 1)" font-size="18.00" fill="#1c1c1c">1.0</text>
<text transform="translate(795.30 33.10) scale(1.0000 1)" font-size="18.00" fill="#1c1c1c">1.5</text>
<text transform="translate(823.98 264.70) scale(1.0000 1)" font-size="18.00" fill="#1c1c1c">0</text>
<text transform="translate(867.79 264.70) scale(1.0000 1)" font-size="18.00" fill="#1c1c1c">20</text>
<text transform="translate(916.93 264.70) scale(1.0000 1)" font-size="18.00" fill="#1c1c1c">40</text>
<text transform="translate(965.57 264.70) scale(1.0000 1)" font-size="18.00" fill="#1c1c1c">60</text>
<text transform="translate(1014.53 264.70) scale(1.0000 1)" font-size="18.00" fill="#1c1c1c">80</text>
<text transform="translate(1058.11 264.70) scale(1.0000 1)" font-size="18.00" fill="#1c1c1c">100</text>
<text transform="translate(882.23 286.80) scale(1.1411 1)" font-size="18.00" fill="#1c1c1c">Scan Rate (mV/s)</text>
<text transform="translate(752.12 25.50) scale(0.9960 1)" font-size="23.00" fill="#1c1c1c">(e)</text>
<text transform="translate(786.00 187.20) rotate(-90) scale(1.0000 1)" font-size="20.00" fill="#1c1c1c">J<tspan font-size="13.50" dy="5.00">CC</tspan><tspan dy="-5.00"> (mA/cm</tspan><tspan font-size="13.50" dy="-8.00">2</tspan><tspan dy="8.00">)</tspan></text>
<text transform="translate(974.84 231.10) scale(1.0061 1)" font-size="23.00" fill="#EE5350">HH-AC-600</text>
<text transform="translate(944.99 162.90) scale(1.0100 1)" font-size="17.50" fill="#1c1c1c">Potential at 0.45 V</text>
<text transform="translate(891.00 143.50) rotate(-33.00) scale(1.0000 1)" font-size="18.00" fill="#1c1c1c">C<tspan font-size="12.00" dy="4">NF</tspan><tspan dy="-4">= 1.08 mF/cm</tspan><tspan font-size="12.00" dy="-7">2</tspan></text>
<path d="M110.8 502.1L111.7 495.5L112.7 489.6L113.6 484.1L114.5 479.0L115.5 474.4L116.4 470.1L117.4 466.1L118.3 462.5L119.3 459.1L120.2 455.9L121.2 453.1L122.1 450.4L123.0 447.9L124.0 445.5L124.9 443.4L125.9 441.3L126.8 439.5L127.8 437.7L128.7 436.0L129.6 434.5L130.6 433.0L131.5 431.6L132.5 430.3L133.4 429.1L134.4 427.9L135.3 426.8L136.3 425.7L137.2 424.7L138.1 423.7L139.1 422.8L140.0 421.9L141.0 421.0L141.9 420.2L142.9 419.4L143.8 418.6L144.8 417.8L145.7 417.1L146.6 416.4L147.6 415.7L148.5 415.0L149.5 414.4L150.4 413.7L151.4 413.1L152.3 412.4L153.2 411.8L154.2 411.2L155.1 410.6L156.1 410.0L157.0 409.5L158.0 408.9L158.9 408.3L159.9 407.8L160.8 407.2L161.7 406.7L162.7 406.1L163.6 405.6L164.6 405.1L165.5 404.6L166.5 404.0L167.4 403.5L168.3 403.0L169.3 402.5L170.2 402.0L171.2 401.5L172.1 401.0L173.1 400.5L174.0 400.0L175.0 399.5L175.9 399.0L176.8 398.5L177.8 398.0L178.7 397.5L179.7 397.1L180.6 396.6L181.6 396.1L182.5 395.6L183.4 395.2L184.4 394.7L185.3 394.2L186.3 393.7L187.2 393.3L188.2 392.8L189.1 392.4L190.1 391.9L191.0 391.4L191.9 391.0L192.9 390.5L193.8 390.1L194.8 389.6L195.7 389.2L196.7 388.7L197.6 388.3L198.5 387.8L199.5 387.4L200.4 386.9L201.4 386.5L202.3 386.1L203.3 385.6L204.2 385.2L205.2 384.7L206.1 384.3L207.0 383.9L208.0 383.4L208.9 383.0L209.9 382.6L210.8 382.2L211.8 381.7L212.7 381.3L213.6 380.9L214.6 380.5L215.5 380.1L216.5 379.6L217.4 379.2L218.4 378.8L219.3 378.4L220.3 378.0L221.2 377.6L222.1 377.2L223.1 376.8L224.0 376.4L225.0 376.0L225.9 375.5L226.9 375.1L227.8 374.7L228.7 374.4L229.7 374.0L230.6 373.6L231.6 373.2L232.5 372.8L233.5 372.4L234.4 372.0L235.4 371.6L236.3 371.2L237.2 370.8L238.2 370.5L239.1 370.1L240.1 369.7L241.0 369.3L242.0 368.9L242.9 368.6L243.8 368.2L244.8 367.8L245.7 367.4L246.7 367.1L247.6 366.7L248.6 366.3L249.5 366.0L250.5 365.6L251.4 365.2L252.3 364.9L253.3 364.5L254.2 364.2L255.2 363.8L256.1 363.5L257.1 363.1L258.0 362.8L259.0 362.4L259.9 362.1L260.8 361.7L261.8 361.4L262.7 361.0L263.7 360.7L264.6 360.3L265.6 360.0L266.5 359.6L267.4 359.3L268.4 359.0L269.3 358.6L270.3 358.3L271.2 358.0L272.2 357.6L273.1 357.3L274.1 357.0L275.0 356.7L275.9 356.3L276.9 356.0L277.8 355.7L278.8 355.4L279.7 355.1L280.7 354.7L281.6 354.4L282.5 354.1L283.5 353.8L284.4 353.5L285.4 353.2L286.3 352.9L287.3 352.6L288.2 352.3L289.2 352.0L290.1 351.7L291.0 351.4L292.0 351.1L292.9 350.8L293.9 350.5L294.8 350.2L295.8 349.9L296.7 349.6L297.6 349.3L298.6 349.0L299.5 348.7L300.5 348.4L301.4 348.2L302.4 347.9L303.3 347.6L304.3 347.3L305.2 347.0L306.1 346.8L307.1 346.5L308.0 346.2L309.0 345.9L309.9 345.7L310.9 345.4L311.8 345.1L312.7 344.9L313.7 344.6L314.6 344.3L315.6 344.1L316.5 343.8L317.5 343.5L318.4 343.3L319.4 343.0L320.3 342.8L321.2 342.5L322.2 342.3L323.1 342.0L324.1 341.8L325.0 341.5L326.0 341.3L326.9 341.0L327.8 340.8L328.8 340.6L329.7 340.3L330.7 340.1L331.6 339.8L332.6 339.6L333.5 339.4L334.5 339.1L335.4 338.9L336.3 338.7L337.3 338.4L337.3 338.4L336.3 342.0L335.4 345.4L334.5 348.7L333.5 351.9L332.6 355.0L331.6 358.0L330.7 360.9L329.7 363.7L328.8 366.4L327.8 369.0L326.9 371.5L326.0 374.0L325.0 376.3L324.1 378.6L323.1 380.8L322.2 382.9L321.2 385.0L320.3 387.0L319.4 388.9L318.4 390.8L317.5 392.6L316.5 394.4L315.6 396.1L314.6 397.7L313.7 399.3L312.7 400.9L311.8 402.4L310.9 403.8L309.9 405.2L309.0 406.6L308.0 407.9L307.1 409.2L306.1 410.4L305.2 411.6L304.3 412.8L303.3 413.9L302.4 415.0L301.4 416.1L300.5 417.2L299.5 418.2L298.6 419.1L297.6 420.1L296.7 421.0L295.8 421.9L294.8 422.8L293.9 423.7L292.9 424.5L292.0 425.3L291.0 426.1L290.1 426.8L289.2 427.6L288.2 428.3L287.3 429.0L286.3 429.7L285.4 430.4L284.4 431.1L283.5 431.7L282.5 432.3L281.6 433.0L280.7 433.6L279.7 434.1L278.8 434.7L277.8 435.3L276.9 435.8L275.9 436.4L275.0 436.9L274.1 437.4L273.1 437.9L272.2 438.4L271.2 438.9L270.3 439.4L269.3 439.9L268.4 440.3L267.4 440.8L266.5 441.3L265.6 441.7L264.6 442.1L263.7 442.6L262.7 443.0L261.8 443.4L260.8 443.8L259.9 444.2L259.0 444.6L258.0 445.0L257.1 445.4L256.1 445.8L255.2 446.2L254.2 446.6L253.3 446.9L252.3 447.3L251.4 447.7L250.5 448.0L249.5 448.4L248.6 448.7L247.6 449.1L246.7 449.5L245.7 449.8L244.8 450.1L243.8 450.5L242.9 450.8L242.0 451.2L241.0 451.5L240.1 451.9L239.1 452.2L238.2 452.5L237.2 452.9L236.3 453.2L235.4 453.5L234.4 453.8L233.5 454.2L232.5 454.5L231.6 454.8L230.6 455.1L229.7 455.5L228.7 455.8L227.8 456.1L226.9 456.4L225.9 456.8L225.0 457.1L224.0 457.4L223.1 457.7L222.1 458.0L221.2 458.4L220.3 458.7L219.3 459.0L218.4 459.3L217.4 459.6L216.5 460.0L215.5 460.3L214.6 460.6L213.6 460.9L212.7 461.2L211.8 461.6L210.8 461.9L209.9 462.2L208.9 462.5L208.0 462.8L207.0 463.2L206.1 463.5L205.2 463.8L204.2 464.1L203.3 464.5L202.3 464.8L201.4 465.1L200.4 465.5L199.5 465.8L198.5 466.1L197.6 466.4L196.7 466.8L195.7 467.1L194.8 467.4L193.8 467.8L192.9 468.1L191.9 468.5L191.0 468.8L190.1 469.1L189.1 469.5L188.2 469.8L187.2 470.1L186.3 470.5L185.3 470.8L184.4 471.2L183.4 471.5L182.5 471.9L181.6 472.2L180.6 472.6L179.7 472.9L178.7 473.3L177.8 473.6L176.8 474.0L175.9 474.3L175.0 474.7L174.0 475.0L173.1 475.4L172.1 475.8L171.2 476.1L170.2 476.5L169.3 476.8L168.3 477.2L167.4 477.6L166.5 477.9L165.5 478.3L164.6 478.7L163.6 479.1L162.7 479.4L161.7 479.8L160.8 480.2L159.9 480.6L158.9 480.9L158.0 481.3L157.0 481.7L156.1 482.1L155.1 482.5L154.2 482.8L153.2 483.2L152.3 483.6L151.4 484.0L150.4 484.4L149.5 484.8L148.5 485.2L147.6 485.6L146.6 486.0L145.7 486.4L144.8 486.8L143.8 487.2L142.9 487.6L141.9 488.0L141.0 488.4L140.0 488.8L139.1 489.2L138.1 489.6L137.2 490.0L136.3 490.4L135.3 490.8L134.4 491.2L133.4 491.6L132.5 492.1L131.5 492.5L130.6 492.9L129.6 493.3L128.7 493.7L127.8 494.2L126.8 494.6L125.9 495.0L124.9 495.4L124.0 495.9L123.0 496.3L122.1 496.7L121.2 497.2L120.2 497.6L119.3 498.0L118.3 498.5L117.4 498.9L116.4 499.4L115.5 499.8L114.5 500.2L113.6 500.7L112.7 501.1L111.7 501.6L110.8 502.0L110.8 502.1" stroke="#0B1F0B" stroke-width="2.60" fill="none" stroke-linejoin="round" stroke-linecap="round"/>
<path d="M110.8 486.8L111.7 484.5L112.7 482.2L113.6 480.0L114.5 477.8L115.5 475.7L116.4 473.6L117.4 471.6L118.3 469.6L119.3 467.6L120.2 465.7L121.2 463.8L122.1 462.0L123.0 460.2L124.0 458.5L124.9 456.8L125.9 455.1L126.8 453.4L127.8 451.8L128.7 450.2L129.6 448.7L130.6 447.2L131.5 445.7L132.5 444.2L133.4 442.8L134.4 441.4L135.3 440.1L136.3 438.7L137.2 437.4L138.1 436.2L139.1 434.9L140.0 433.7L141.0 432.5L141.9 431.3L142.9 430.1L143.8 429.0L144.8 427.9L145.7 426.8L146.6 425.7L147.6 424.7L148.5 423.7L149.5 422.7L150.4 421.7L151.4 420.7L152.3 419.8L153.2 418.8L154.2 417.9L155.1 417.0L156.1 416.1L157.0 415.3L158.0 414.4L158.9 413.6L159.9 412.8L160.8 412.0L161.7 411.2L162.7 410.5L163.6 409.7L164.6 409.0L165.5 408.2L166.5 407.5L167.4 406.8L168.3 406.1L169.3 405.5L170.2 404.8L171.2 404.1L172.1 403.5L173.1 402.9L174.0 402.3L175.0 401.6L175.9 401.0L176.8 400.5L177.8 399.9L178.7 399.3L179.7 398.8L180.6 398.2L181.6 397.7L182.5 397.1L183.4 396.6L184.4 396.1L185.3 395.6L186.3 395.1L187.2 394.6L188.2 394.1L189.1 393.6L190.1 393.2L191.0 392.7L191.9 392.3L192.9 391.8L193.8 391.4L194.8 390.9L195.7 390.5L196.7 390.1L197.6 389.7L198.5 389.3L199.5 388.9L200.4 388.5L201.4 388.1L202.3 387.7L203.3 387.3L204.2 386.9L205.2 386.5L206.1 386.2L207.0 385.8L208.0 385.5L208.9 385.1L209.9 384.8L210.8 384.4L211.8 384.1L212.7 383.7L213.6 383.4L214.6 383.1L215.5 382.7L216.5 382.4L217.4 382.1L218.4 381.8L219.3 381.5L220.3 381.2L221.2 380.9L222.1 380.6L223.1 380.3L224.0 380.0L225.0 379.7L225.9 379.4L226.9 379.1L227.8 378.8L228.7 378.5L229.7 378.2L230.6 378.0L231.6 377.7L232.5 377.4L233.5 377.2L234.4 376.9L235.4 376.6L236.3 376.4L237.2 376.1L238.2 375.8L239.1 375.6L240.1 375.3L241.0 375.1L242.0 374.8L242.9 374.6L243.8 374.3L244.8 374.1L245.7 373.8L246.7 373.6L247.6 373.4L248.6 373.1L249.5 372.9L250.5 372.6L251.4 372.4L252.3 372.2L253.3 371.9L254.2 371.7L255.2 371.5L256.1 371.2L257.1 371.0L258.0 370.8L259.0 370.6L259.9 370.3L260.8 370.1L261.8 369.9L262.7 369.7L263.7 369.5L264.6 369.2L265.6 369.0L266.5 368.8L267.4 368.6L268.4 368.4L269.3 368.2L270.3 367.9L271.2 367.7L272.2 367.5L273.1 367.3L274.1 367.1L275.0 366.9L275.9 366.7L276.9 366.5L277.8 366.3L278.8 366.1L279.7 365.8L280.7 365.6L281.6 365.4L282.5 365.2L283.5 365.0L284.4 364.8L285.4 364.6L286.3 364.4L287.3 364.2L288.2 364.0L289.2 363.8L290.1 363.6L291.0 363.4L292.0 363.2L292.9 363.0L293.9 362.8L294.8 362.6L295.8 362.4L296.7 362.2L297.6 362.0L298.6 361.8L299.5 361.6L300.5 361.4L301.4 361.2L302.4 361.0L303.3 360.8L304.3 360.6L305.2 360.4L306.1 360.2L307.1 360.0L308.0 359.8L309.0 359.6L309.9 359.4L310.9 359.2L311.8 359.1L312.7 358.9L313.7 358.7L314.6 358.5L315.6 358.3L316.5 358.1L317.5 357.9L318.4 357.7L319.4 357.5L320.3 357.3L321.2 357.1L322.2 356.9L323.1 356.7L324.1 356.5L325.0 356.3L326.0 356.1L326.9 355.9L327.8 355.7L328.8 355.5L329.7 355.4L330.7 355.2L331.6 355.0L332.6 354.8L333.5 354.6L334.5 354.4L335.4 354.2L336.3 354.0L337.3 353.8L337.3 353.5L336.3 357.6L335.4 361.5L334.5 365.1L333.5 368.6L332.6 371.8L331.6 374.9L330.7 377.8L329.7 380.5L328.8 383.1L327.8 385.6L326.9 387.9L326.0 390.1L325.0 392.1L324.1 394.1L323.1 396.0L322.2 397.7L321.2 399.4L320.3 401.0L319.4 402.5L318.4 403.9L317.5 405.3L316.5 406.6L315.6 407.8L314.6 409.0L313.7 410.1L312.7 411.2L311.8 412.2L310.9 413.2L309.9 414.2L309.0 415.1L308.0 415.9L307.1 416.8L306.1 417.6L305.2 418.4L304.3 419.1L303.3 419.8L302.4 420.5L301.4 421.2L300.5 421.8L299.5 422.4L298.6 423.0L297.6 423.6L296.7 424.2L295.8 424.8L294.8 425.3L293.9 425.8L292.9 426.3L292.0 426.8L291.0 427.3L290.1 427.8L289.2 428.3L288.2 428.7L287.3 429.2L286.3 429.6L285.4 430.1L284.4 430.5L283.5 430.9L282.5 431.3L281.6 431.7L280.7 432.1L279.7 432.5L278.8 432.9L277.8 433.3L276.9 433.7L275.9 434.0L275.0 434.4L274.1 434.8L273.1 435.1L272.2 435.5L271.2 435.9L270.3 436.2L269.3 436.6L268.4 436.9L267.4 437.3L266.5 437.6L265.6 438.0L264.6 438.3L263.7 438.6L262.7 439.0L261.8 439.3L260.8 439.6L259.9 440.0L259.0 440.3L258.0 440.6L257.1 441.0L256.1 441.3L255.2 441.6L254.2 441.9L253.3 442.3L252.3 442.6L251.4 442.9L250.5 443.2L249.5 443.5L248.6 443.9L247.6 444.2L246.7 444.5L245.7 444.8L244.8 445.1L243.8 445.4L242.9 445.7L242.0 446.1L241.0 446.4L240.1 446.7L239.1 447.0L238.2 447.3L237.2 447.6L236.3 447.9L235.4 448.2L234.4 448.6L233.5 448.9L232.5 449.2L231.6 449.5L230.6 449.8L229.7 450.1L228.7 450.4L227.8 450.7L226.9 451.0L225.9 451.3L225.0 451.6L224.0 451.9L223.1 452.2L222.1 452.5L221.2 452.8L220.3 453.1L219.3 453.4L218.4 453.8L217.4 454.1L216.5 454.4L215.5 454.7L214.6 455.0L213.6 455.3L212.7 455.6L211.8 455.9L210.8 456.2L209.9 456.5L208.9 456.8L208.0 457.1L207.0 457.4L206.1 457.7L205.2 458.0L204.2 458.3L203.3 458.6L202.3 458.9L201.4 459.2L200.4 459.5L199.5 459.8L198.5 460.1L197.6 460.4L196.7 460.7L195.7 461.0L194.8 461.3L193.8 461.5L192.9 461.8L191.9 462.1L191.0 462.4L190.1 462.7L189.1 463.0L188.2 463.3L187.2 463.6L186.3 463.9L185.3 464.2L184.4 464.5L183.4 464.8L182.5 465.1L181.6 465.4L180.6 465.7L179.7 466.0L178.7 466.3L177.8 466.6L176.8 466.9L175.9 467.1L175.0 467.4L174.0 467.7L173.1 468.0L172.1 468.3L171.2 468.6L170.2 468.9L169.3 469.2L168.3 469.5L167.4 469.8L166.5 470.1L165.5 470.3L164.6 470.6L163.6 470.9L162.7 471.2L161.7 471.5L160.8 471.8L159.9 472.1L158.9 472.4L158.0 472.7L157.0 473.0L156.1 473.2L155.1 473.5L154.2 473.8L153.2 474.1L152.3 474.4L151.4 474.7L150.4 475.0L149.5 475.3L148.5 475.5L147.6 475.8L146.6 476.1L145.7 476.4L144.8 476.7L143.8 477.0L142.9 477.3L141.9 477.5L141.0 477.8L140.0 478.1L139.1 478.4L138.1 478.7L137.2 479.0L136.3 479.2L135.3 479.5L134.4 479.8L133.4 480.1L132.5 480.4L131.5 480.7L130.6 480.9L129.6 481.2L128.7 481.5L127.8 481.8L126.8 482.1L125.9 482.3L124.9 482.6L124.0 482.9L123.0 483.2L122.1 483.5L121.2 483.7L120.2 484.0L119.3 484.3L118.3 484.6L117.4 484.9L116.4 485.1L115.5 485.4L114.5 485.7L113.6 486.0L112.7 486.3L111.7 486.5L110.8 486.8L110.8 486.8" stroke="#0B4A14" stroke-width="2.60" fill="none" stroke-linejoin="round" stroke-linecap="round"/>
<path d="M110.8 471.9L111.7 469.8L112.7 467.8L113.6 465.8L114.5 463.9L115.5 462.1L116.4 460.3L117.4 458.5L118.3 456.8L119.3 455.1L120.2 453.5L121.2 452.0L122.1 450.4L123.0 448.9L124.0 447.5L124.9 446.1L125.9 444.7L126.8 443.3L127.8 442.0L128.7 440.7L129.6 439.5L130.6 438.3L131.5 437.1L132.5 435.9L133.4 434.8L134.4 433.7L135.3 432.6L136.3 431.6L137.2 430.6L138.1 429.6L139.1 428.6L140.0 427.6L141.0 426.7L141.9 425.8L142.9 424.9L143.8 424.0L144.8 423.2L145.7 422.4L146.6 421.5L147.6 420.7L148.5 420.0L149.5 419.2L150.4 418.5L151.4 417.7L152.3 417.0L153.2 416.3L154.2 415.6L155.1 414.9L156.1 414.3L157.0 413.6L158.0 413.0L158.9 412.4L159.9 411.8L160.8 411.2L161.7 410.6L162.7 410.0L163.6 409.5L164.6 408.9L165.5 408.4L166.5 407.8L167.4 407.3L168.3 406.8L169.3 406.3L170.2 405.8L171.2 405.3L172.1 404.8L173.1 404.3L174.0 403.9L175.0 403.4L175.9 402.9L176.8 402.5L177.8 402.1L178.7 401.6L179.7 401.2L180.6 400.8L181.6 400.4L182.5 400.0L183.4 399.6L184.4 399.2L185.3 398.8L186.3 398.4L187.2 398.0L188.2 397.7L189.1 397.3L190.1 396.9L191.0 396.6L191.9 396.2L192.9 395.9L193.8 395.5L194.8 395.2L195.7 394.9L196.7 394.5L197.6 394.2L198.5 393.9L199.5 393.6L200.4 393.3L201.4 393.0L202.3 392.6L203.3 392.3L204.2 392.0L205.2 391.7L206.1 391.5L207.0 391.2L208.0 390.9L208.9 390.6L209.9 390.3L210.8 390.0L211.8 389.8L212.7 389.5L213.6 389.2L214.6 389.0L215.5 388.7L216.5 388.5L217.4 388.2L218.4 388.0L219.3 387.7L220.3 387.5L221.2 387.2L222.1 387.0L223.1 386.7L224.0 386.5L225.0 386.3L225.9 386.0L226.9 385.8L227.8 385.6L228.7 385.3L229.7 385.1L230.6 384.9L231.6 384.7L232.5 384.5L233.5 384.3L234.4 384.0L235.4 383.8L236.3 383.6L237.2 383.4L238.2 383.2L239.1 383.0L240.1 382.8L241.0 382.6L242.0 382.4L242.9 382.2L243.8 382.0L244.8 381.9L245.7 381.7L246.7 381.5L247.6 381.3L248.6 381.1L249.5 380.9L250.5 380.8L251.4 380.6L252.3 380.4L253.3 380.2L254.2 380.1L255.2 379.9L256.1 379.7L257.1 379.6L258.0 379.4L259.0 379.2L259.9 379.1L260.8 378.9L261.8 378.8L262.7 378.6L263.7 378.5L264.6 378.3L265.6 378.2L266.5 378.0L267.4 377.9L268.4 377.7L269.3 377.6L270.3 377.4L271.2 377.3L272.2 377.2L273.1 377.0L274.1 376.9L275.0 376.7L275.9 376.6L276.9 376.5L277.8 376.4L278.8 376.2L279.7 376.1L280.7 376.0L281.6 375.9L282.5 375.7L283.5 375.6L284.4 375.5L285.4 375.4L286.3 375.3L287.3 375.2L288.2 375.0L289.2 374.9L290.1 374.8L291.0 374.7L292.0 374.6L292.9 374.5L293.9 374.4L294.8 374.3L295.8 374.2L296.7 374.1L297.6 374.0L298.6 373.9L299.5 373.8L300.5 373.7L301.4 373.6L302.4 373.5L303.3 373.5L304.3 373.4L305.2 373.3L306.1 373.2L307.1 373.1L308.0 373.0L309.0 373.0L309.9 372.9L310.9 372.8L311.8 372.7L312.7 372.7L313.7 372.6L314.6 372.5L315.6 372.5L316.5 372.4L317.5 372.3L318.4 372.3L319.4 372.2L320.3 372.1L321.2 372.1L322.2 372.0L323.1 372.0L324.1 371.9L325.0 371.9L326.0 371.8L326.9 371.8L327.8 371.7L328.8 371.7L329.7 371.6L330.7 371.6L331.6 371.5L332.6 371.5L333.5 371.4L334.5 371.4L335.4 371.4L336.3 371.3L337.3 371.3L337.3 371.3L336.3 373.1L335.4 374.8L334.5 376.5L333.5 378.2L332.6 379.8L331.6 381.4L330.7 382.9L329.7 384.5L328.8 385.9L327.8 387.4L326.9 388.8L326.0 390.1L325.0 391.5L324.1 392.8L323.1 394.1L322.2 395.3L321.2 396.5L320.3 397.7L319.4 398.9L318.4 400.0L317.5 401.1L316.5 402.2L315.6 403.2L314.6 404.2L313.7 405.3L312.7 406.2L311.8 407.2L310.9 408.1L309.9 409.0L309.0 409.9L308.0 410.8L307.1 411.6L306.1 412.5L305.2 413.3L304.3 414.1L303.3 414.8L302.4 415.6L301.4 416.3L300.5 417.1L299.5 417.8L298.6 418.5L297.6 419.1L296.7 419.8L295.8 420.4L294.8 421.1L293.9 421.7L292.9 422.3L292.0 422.9L291.0 423.4L290.1 424.0L289.2 424.6L288.2 425.1L287.3 425.6L286.3 426.1L285.4 426.7L284.4 427.1L283.5 427.6L282.5 428.1L281.6 428.6L280.7 429.0L279.7 429.5L278.8 429.9L277.8 430.3L276.9 430.8L275.9 431.2L275.0 431.6L274.1 432.0L273.1 432.3L272.2 432.7L271.2 433.1L270.3 433.5L269.3 433.8L268.4 434.2L267.4 434.5L266.5 434.9L265.6 435.2L264.6 435.5L263.7 435.8L262.7 436.2L261.8 436.5L260.8 436.8L259.9 437.1L259.0 437.4L258.0 437.7L257.1 438.0L256.1 438.2L255.2 438.5L254.2 438.8L253.3 439.1L252.3 439.3L251.4 439.6L250.5 439.8L249.5 440.1L248.6 440.4L247.6 440.6L246.7 440.9L245.7 441.1L244.8 441.3L243.8 441.6L242.9 441.8L242.0 442.0L241.0 442.3L240.1 442.5L239.1 442.7L238.2 442.9L237.2 443.2L236.3 443.4L235.4 443.6L234.4 443.8L233.5 444.0L232.5 444.2L231.6 444.4L230.6 444.6L229.7 444.8L228.7 445.0L227.8 445.3L226.9 445.5L225.9 445.7L225.0 445.8L224.0 446.0L223.1 446.2L222.1 446.4L221.2 446.6L220.3 446.8L219.3 447.0L218.4 447.2L217.4 447.4L216.5 447.6L215.5 447.8L214.6 448.0L213.6 448.2L212.7 448.3L211.8 448.5L210.8 448.7L209.9 448.9L208.9 449.1L208.0 449.3L207.0 449.5L206.1 449.7L205.2 449.8L204.2 450.0L203.3 450.2L202.3 450.4L201.4 450.6L200.4 450.8L199.5 451.0L198.5 451.1L197.6 451.3L196.7 451.5L195.7 451.7L194.8 451.9L193.8 452.1L192.9 452.3L191.9 452.5L191.0 452.6L190.1 452.8L189.1 453.0L188.2 453.2L187.2 453.4L186.3 453.6L185.3 453.8L184.4 454.0L183.4 454.2L182.5 454.4L181.6 454.5L180.6 454.7L179.7 454.9L178.7 455.1L177.8 455.3L176.8 455.5L175.9 455.7L175.0 455.9L174.0 456.1L173.1 456.3L172.1 456.5L171.2 456.7L170.2 456.9L169.3 457.1L168.3 457.3L167.4 457.5L166.5 457.7L165.5 457.9L164.6 458.1L163.6 458.3L162.7 458.5L161.7 458.8L160.8 459.0L159.9 459.2L158.9 459.4L158.0 459.6L157.0 459.8L156.1 460.0L155.1 460.2L154.2 460.5L153.2 460.7L152.3 460.9L151.4 461.1L150.4 461.3L149.5 461.6L148.5 461.8L147.6 462.0L146.6 462.2L145.7 462.5L144.8 462.7L143.8 462.9L142.9 463.1L141.9 463.4L141.0 463.6L140.0 463.8L139.1 464.1L138.1 464.3L137.2 464.6L136.3 464.8L135.3 465.0L134.4 465.3L133.4 465.5L132.5 465.8L131.5 466.0L130.6 466.2L129.6 466.5L128.7 466.7L127.8 467.0L126.8 467.2L125.9 467.5L124.9 467.7L124.0 468.0L123.0 468.2L122.1 468.5L121.2 468.8L120.2 469.0L119.3 469.3L118.3 469.5L117.4 469.8L116.4 470.1L115.5 470.3L114.5 470.6L113.6 470.9L112.7 471.1L111.7 471.4L110.8 471.7L110.8 471.9" stroke="#157A1E" stroke-width="2.60" fill="none" stroke-linejoin="round" stroke-linecap="round"/>
<path d="M110.8 451.9L111.7 450.0L112.7 448.2L113.6 446.5L114.5 444.9L115.5 443.3L116.4 441.8L117.4 440.3L118.3 439.0L119.3 437.7L120.2 436.4L121.2 435.2L122.1 434.0L123.0 432.9L124.0 431.8L124.9 430.8L125.9 429.8L126.8 428.9L127.8 428.0L128.7 427.1L129.6 426.3L130.6 425.5L131.5 424.7L132.5 424.0L133.4 423.2L134.4 422.6L135.3 421.9L136.3 421.3L137.2 420.6L138.1 420.0L139.1 419.5L140.0 418.9L141.0 418.4L141.9 417.9L142.9 417.4L143.8 416.9L144.8 416.4L145.7 416.0L146.6 415.5L147.6 415.1L148.5 414.7L149.5 414.3L150.4 413.9L151.4 413.6L152.3 413.2L153.2 412.9L154.2 412.5L155.1 412.2L156.1 411.9L157.0 411.5L158.0 411.2L158.9 410.9L159.9 410.7L160.8 410.4L161.7 410.1L162.7 409.8L163.6 409.6L164.6 409.3L165.5 409.1L166.5 408.8L167.4 408.6L168.3 408.3L169.3 408.1L170.2 407.9L171.2 407.7L172.1 407.4L173.1 407.2L174.0 407.0L175.0 406.8L175.9 406.6L176.8 406.4L177.8 406.2L178.7 406.0L179.7 405.9L180.6 405.7L181.6 405.5L182.5 405.3L183.4 405.1L184.4 405.0L185.3 404.8L186.3 404.6L187.2 404.5L188.2 404.3L189.1 404.1L190.1 404.0L191.0 403.8L191.9 403.7L192.9 403.5L193.8 403.3L194.8 403.2L195.7 403.1L196.7 402.9L197.6 402.8L198.5 402.6L199.5 402.5L200.4 402.3L201.4 402.2L202.3 402.1L203.3 401.9L204.2 401.8L205.2 401.6L206.1 401.5L207.0 401.4L208.0 401.3L208.9 401.1L209.9 401.0L210.8 400.9L211.8 400.7L212.7 400.6L213.6 400.5L214.6 400.4L215.5 400.3L216.5 400.1L217.4 400.0L218.4 399.9L219.3 399.8L220.3 399.7L221.2 399.5L222.1 399.4L223.1 399.3L224.0 399.2L225.0 399.1L225.9 399.0L226.9 398.9L227.8 398.8L228.7 398.7L229.7 398.6L230.6 398.4L231.6 398.3L232.5 398.2L233.5 398.1L234.4 398.0L235.4 397.9L236.3 397.8L237.2 397.7L238.2 397.6L239.1 397.5L240.1 397.4L241.0 397.3L242.0 397.2L242.9 397.1L243.8 397.0L244.8 396.9L245.7 396.8L246.7 396.7L247.6 396.7L248.6 396.6L249.5 396.5L250.5 396.4L251.4 396.3L252.3 396.2L253.3 396.1L254.2 396.0L255.2 395.9L256.1 395.8L257.1 395.8L258.0 395.7L259.0 395.6L259.9 395.5L260.8 395.4L261.8 395.3L262.7 395.3L263.7 395.2L264.6 395.1L265.6 395.0L266.5 394.9L267.4 394.9L268.4 394.8L269.3 394.7L270.3 394.6L271.2 394.6L272.2 394.5L273.1 394.4L274.1 394.3L275.0 394.3L275.9 394.2L276.9 394.1L277.8 394.0L278.8 394.0L279.7 393.9L280.7 393.8L281.6 393.8L282.5 393.7L283.5 393.6L284.4 393.6L285.4 393.5L286.3 393.4L287.3 393.4L288.2 393.3L289.2 393.2L290.1 393.2L291.0 393.1L292.0 393.0L292.9 393.0L293.9 392.9L294.8 392.9L295.8 392.8L296.7 392.7L297.6 392.7L298.6 392.6L299.5 392.6L300.5 392.5L301.4 392.5L302.4 392.4L303.3 392.4L304.3 392.3L305.2 392.3L306.1 392.2L307.1 392.1L308.0 392.1L309.0 392.0L309.9 392.0L310.9 392.0L311.8 391.9L312.7 391.9L313.7 391.8L314.6 391.8L315.6 391.7L316.5 391.7L317.5 391.6L318.4 391.6L319.4 391.5L320.3 391.5L321.2 391.5L322.2 391.4L323.1 391.4L324.1 391.3L325.0 391.3L326.0 391.3L326.9 391.2L327.8 391.2L328.8 391.2L329.7 391.1L330.7 391.1L331.6 391.0L332.6 391.0L333.5 391.0L334.5 390.9L335.4 390.9L336.3 390.9L337.3 390.9L337.3 390.9L336.3 392.1L335.4 393.2L334.5 394.4L333.5 395.5L332.6 396.5L331.6 397.6L330.7 398.6L329.7 399.6L328.8 400.6L327.8 401.5L326.9 402.4L326.0 403.3L325.0 404.1L324.1 405.0L323.1 405.8L322.2 406.5L321.2 407.3L320.3 408.0L319.4 408.8L318.4 409.5L317.5 410.2L316.5 410.8L315.6 411.5L314.6 412.1L313.7 412.7L312.7 413.3L311.8 413.9L310.9 414.4L309.9 415.0L309.0 415.5L308.0 416.0L307.1 416.5L306.1 417.0L305.2 417.5L304.3 418.0L303.3 418.4L302.4 418.9L301.4 419.3L300.5 419.7L299.5 420.1L298.6 420.5L297.6 420.9L296.7 421.3L295.8 421.7L294.8 422.0L293.9 422.4L292.9 422.7L292.0 423.1L291.0 423.4L290.1 423.7L289.2 424.0L288.2 424.3L287.3 424.6L286.3 424.9L285.4 425.2L284.4 425.5L283.5 425.7L282.5 426.0L281.6 426.3L280.7 426.5L279.7 426.8L278.8 427.0L277.8 427.2L276.9 427.5L275.9 427.7L275.0 427.9L274.1 428.1L273.1 428.3L272.2 428.6L271.2 428.8L270.3 429.0L269.3 429.2L268.4 429.4L267.4 429.5L266.5 429.7L265.6 429.9L264.6 430.1L263.7 430.3L262.7 430.5L261.8 430.6L260.8 430.8L259.9 431.0L259.0 431.1L258.0 431.3L257.1 431.5L256.1 431.6L255.2 431.8L254.2 431.9L253.3 432.1L252.3 432.2L251.4 432.4L250.5 432.5L249.5 432.7L248.6 432.8L247.6 432.9L246.7 433.1L245.7 433.2L244.8 433.3L243.8 433.5L242.9 433.6L242.0 433.7L241.0 433.9L240.1 434.0L239.1 434.1L238.2 434.3L237.2 434.4L236.3 434.5L235.4 434.6L234.4 434.8L233.5 434.9L232.5 435.0L231.6 435.1L230.6 435.3L229.7 435.4L228.7 435.5L227.8 435.6L226.9 435.7L225.9 435.9L225.0 436.0L224.0 436.1L223.1 436.2L222.1 436.3L221.2 436.4L220.3 436.6L219.3 436.7L218.4 436.8L217.4 436.9L216.5 437.0L215.5 437.1L214.6 437.3L213.6 437.4L212.7 437.5L211.8 437.6L210.8 437.7L209.9 437.8L208.9 437.9L208.0 438.1L207.0 438.2L206.1 438.3L205.2 438.4L204.2 438.5L203.3 438.6L202.3 438.8L201.4 438.9L200.4 439.0L199.5 439.1L198.5 439.2L197.6 439.3L196.7 439.4L195.7 439.6L194.8 439.7L193.8 439.8L192.9 439.9L191.9 440.0L191.0 440.2L190.1 440.3L189.1 440.4L188.2 440.5L187.2 440.6L186.3 440.7L185.3 440.9L184.4 441.0L183.4 441.1L182.5 441.2L181.6 441.3L180.6 441.5L179.7 441.6L178.7 441.7L177.8 441.8L176.8 442.0L175.9 442.1L175.0 442.2L174.0 442.3L173.1 442.4L172.1 442.6L171.2 442.7L170.2 442.8L169.3 443.0L168.3 443.1L167.4 443.2L166.5 443.3L165.5 443.5L164.6 443.6L163.6 443.7L162.7 443.8L161.7 444.0L160.8 444.1L159.9 444.2L158.9 444.4L158.0 444.5L157.0 444.6L156.1 444.8L155.1 444.9L154.2 445.0L153.2 445.2L152.3 445.3L151.4 445.4L150.4 445.6L149.5 445.7L148.5 445.9L147.6 446.0L146.6 446.1L145.7 446.3L144.8 446.4L143.8 446.6L142.9 446.7L141.9 446.8L141.0 447.0L140.0 447.1L139.1 447.3L138.1 447.4L137.2 447.5L136.3 447.7L135.3 447.8L134.4 448.0L133.4 448.1L132.5 448.3L131.5 448.4L130.6 448.6L129.6 448.7L128.7 448.9L127.8 449.0L126.8 449.2L125.9 449.3L124.9 449.5L124.0 449.6L123.0 449.8L122.1 449.9L121.2 450.1L120.2 450.2L119.3 450.4L118.3 450.6L117.4 450.7L116.4 450.9L115.5 451.0L114.5 451.2L113.6 451.3L112.7 451.5L111.7 451.7L110.8 451.8L110.8 451.9" stroke="#1DA52A" stroke-width="2.60" fill="none" stroke-linejoin="round" stroke-linecap="round"/>
<path d="M110.8 436.0L111.7 433.5L112.7 431.2L113.6 429.2L114.5 427.4L115.5 425.8L116.4 424.4L117.4 423.2L118.3 422.0L119.3 421.0L120.2 420.1L121.2 419.3L122.1 418.6L123.0 418.0L124.0 417.4L124.9 416.9L125.9 416.4L126.8 416.0L127.8 415.6L128.7 415.3L129.6 415.0L130.6 414.7L131.5 414.4L132.5 414.2L133.4 414.0L134.4 413.8L135.3 413.6L136.3 413.4L137.2 413.3L138.1 413.1L139.1 413.0L140.0 412.8L141.0 412.7L141.9 412.6L142.9 412.5L143.8 412.4L144.8 412.3L145.7 412.2L146.6 412.1L147.6 412.0L148.5 412.0L149.5 411.9L150.4 411.8L151.4 411.7L152.3 411.7L153.2 411.6L154.2 411.5L155.1 411.4L156.1 411.4L157.0 411.3L158.0 411.2L158.9 411.2L159.9 411.1L160.8 411.1L161.7 411.0L162.7 410.9L163.6 410.9L164.6 410.8L165.5 410.8L166.5 410.7L167.4 410.6L168.3 410.6L169.3 410.5L170.2 410.5L171.2 410.4L172.1 410.4L173.1 410.3L174.0 410.2L175.0 410.2L175.9 410.1L176.8 410.1L177.8 410.0L178.7 410.0L179.7 409.9L180.6 409.9L181.6 409.8L182.5 409.8L183.4 409.7L184.4 409.6L185.3 409.6L186.3 409.5L187.2 409.5L188.2 409.4L189.1 409.4L190.1 409.3L191.0 409.3L191.9 409.2L192.9 409.2L193.8 409.1L194.8 409.1L195.7 409.0L196.7 409.0L197.6 408.9L198.5 408.9L199.5 408.8L200.4 408.8L201.4 408.7L202.3 408.7L203.3 408.6L204.2 408.6L205.2 408.5L206.1 408.5L207.0 408.5L208.0 408.4L208.9 408.4L209.9 408.3L210.8 408.3L211.8 408.2L212.7 408.2L213.6 408.1L214.6 408.1L215.5 408.0L216.5 408.0L217.4 408.0L218.4 407.9L219.3 407.9L220.3 407.8L221.2 407.8L222.1 407.7L223.1 407.7L224.0 407.6L225.0 407.6L225.9 407.6L226.9 407.5L227.8 407.5L228.7 407.4L229.7 407.4L230.6 407.3L231.6 407.3L232.5 407.3L233.5 407.2L234.4 407.2L235.4 407.1L236.3 407.1L237.2 407.1L238.2 407.0L239.1 407.0L240.1 406.9L241.0 406.9L242.0 406.9L242.9 406.8L243.8 406.8L244.8 406.7L245.7 406.7L246.7 406.7L247.6 406.6L248.6 406.6L249.5 406.6L250.5 406.5L251.4 406.5L252.3 406.4L253.3 406.4L254.2 406.4L255.2 406.3L256.1 406.3L257.1 406.3L258.0 406.2L259.0 406.2L259.9 406.2L260.8 406.1L261.8 406.1L262.7 406.1L263.7 406.0L264.6 406.0L265.6 406.0L266.5 405.9L267.4 405.9L268.4 405.9L269.3 405.8L270.3 405.8L271.2 405.8L272.2 405.7L273.1 405.7L274.1 405.7L275.0 405.6L275.9 405.6L276.9 405.6L277.8 405.5L278.8 405.5L279.7 405.5L280.7 405.4L281.6 405.4L282.5 405.4L283.5 405.4L284.4 405.3L285.4 405.3L286.3 405.3L287.3 405.2L288.2 405.2L289.2 405.2L290.1 405.2L291.0 405.1L292.0 405.1L292.9 405.1L293.9 405.0L294.8 405.0L295.8 405.0L296.7 405.0L297.6 404.9L298.6 404.9L299.5 404.9L300.5 404.9L301.4 404.8L302.4 404.8L303.3 404.8L304.3 404.8L305.2 404.7L306.1 404.7L307.1 404.7L308.0 404.7L309.0 404.6L309.9 404.6L310.9 404.6L311.8 404.6L312.7 404.5L313.7 404.5L314.6 404.5L315.6 404.5L316.5 404.5L317.5 404.4L318.4 404.4L319.4 404.4L320.3 404.4L321.2 404.4L322.2 404.3L323.1 404.3L324.1 404.3L325.0 404.3L326.0 404.2L326.9 404.2L327.8 404.2L328.8 404.2L329.7 404.2L330.7 404.2L331.6 404.1L332.6 404.1L333.5 404.1L334.5 404.1L335.4 404.1L336.3 404.0L337.3 404.0L337.3 404.0L336.3 405.5L335.4 406.9L334.5 408.2L333.5 409.3L332.6 410.4L331.6 411.4L330.7 412.2L329.7 413.0L328.8 413.8L327.8 414.4L326.9 415.1L326.0 415.6L325.0 416.2L324.1 416.6L323.1 417.1L322.2 417.5L321.2 417.8L320.3 418.2L319.4 418.5L318.4 418.8L317.5 419.1L316.5 419.3L315.6 419.5L314.6 419.7L313.7 419.9L312.7 420.1L311.8 420.3L310.9 420.5L309.9 420.6L309.0 420.8L308.0 420.9L307.1 421.0L306.1 421.1L305.2 421.2L304.3 421.4L303.3 421.5L302.4 421.6L301.4 421.6L300.5 421.7L299.5 421.8L298.6 421.9L297.6 422.0L296.7 422.1L295.8 422.1L294.8 422.2L293.9 422.3L292.9 422.3L292.0 422.4L291.0 422.5L290.1 422.5L289.2 422.6L288.2 422.7L287.3 422.7L286.3 422.8L285.4 422.8L284.4 422.9L283.5 423.0L282.5 423.0L281.6 423.1L280.7 423.1L279.7 423.2L278.8 423.2L277.8 423.3L276.9 423.4L275.9 423.4L275.0 423.5L274.1 423.5L273.1 423.6L272.2 423.6L271.2 423.7L270.3 423.8L269.3 423.8L268.4 423.9L267.4 423.9L266.5 424.0L265.6 424.0L264.6 424.1L263.7 424.1L262.7 424.2L261.8 424.3L260.8 424.3L259.9 424.4L259.0 424.4L258.0 424.5L257.1 424.5L256.1 424.6L255.2 424.7L254.2 424.7L253.3 424.8L252.3 424.8L251.4 424.9L250.5 425.0L249.5 425.0L248.6 425.1L247.6 425.1L246.7 425.2L245.7 425.2L244.8 425.3L243.8 425.4L242.9 425.4L242.0 425.5L241.0 425.6L240.1 425.6L239.1 425.7L238.2 425.7L237.2 425.8L236.3 425.9L235.4 425.9L234.4 426.0L233.5 426.0L232.5 426.1L231.6 426.2L230.6 426.2L229.7 426.3L228.7 426.4L227.8 426.4L226.9 426.5L225.9 426.6L225.0 426.6L224.0 426.7L223.1 426.7L222.1 426.8L221.2 426.9L220.3 426.9L219.3 427.0L218.4 427.1L217.4 427.1L216.5 427.2L215.5 427.3L214.6 427.3L213.6 427.4L212.7 427.5L211.8 427.5L210.8 427.6L209.9 427.7L208.9 427.7L208.0 427.8L207.0 427.9L206.1 428.0L205.2 428.0L204.2 428.1L203.3 428.2L202.3 428.2L201.4 428.3L200.4 428.4L199.5 428.4L198.5 428.5L197.6 428.6L196.7 428.7L195.7 428.7L194.8 428.8L193.8 428.9L192.9 428.9L191.9 429.0L191.0 429.1L190.1 429.2L189.1 429.2L188.2 429.3L187.2 429.4L186.3 429.4L185.3 429.5L184.4 429.6L183.4 429.7L182.5 429.7L181.6 429.8L180.6 429.9L179.7 430.0L178.7 430.0L177.8 430.1L176.8 430.2L175.9 430.3L175.0 430.3L174.0 430.4L173.1 430.5L172.1 430.6L171.2 430.6L170.2 430.7L169.3 430.8L168.3 430.9L167.4 431.0L166.5 431.0L165.5 431.1L164.6 431.2L163.6 431.3L162.7 431.3L161.7 431.4L160.8 431.5L159.9 431.6L158.9 431.7L158.0 431.7L157.0 431.8L156.1 431.9L155.1 432.0L154.2 432.1L153.2 432.1L152.3 432.2L151.4 432.3L150.4 432.4L149.5 432.5L148.5 432.6L147.6 432.6L146.6 432.7L145.7 432.8L144.8 432.9L143.8 433.0L142.9 433.1L141.9 433.1L141.0 433.2L140.0 433.3L139.1 433.4L138.1 433.5L137.2 433.6L136.3 433.6L135.3 433.7L134.4 433.8L133.4 433.9L132.5 434.0L131.5 434.1L130.6 434.2L129.6 434.2L128.7 434.3L127.8 434.4L126.8 434.5L125.9 434.6L124.9 434.7L124.0 434.8L123.0 434.9L122.1 434.9L121.2 435.0L120.2 435.1L119.3 435.2L118.3 435.3L117.4 435.4L116.4 435.5L115.5 435.6L114.5 435.7L113.6 435.7L112.7 435.8L111.7 435.9L110.8 436.0L110.8 436.0" stroke="#22DD22" stroke-width="2.60" fill="none" stroke-linejoin="round" stroke-linecap="round"/>
<path d="M110.77 524.60V517.40M167.40 524.60V517.40M224.03 524.60V517.40M280.66 524.60V517.40M337.29 524.60V517.40M139.09 524.60V520.60M195.72 524.60V520.60M252.34 524.60V520.60M308.97 524.60V520.60M96.90 524.60H104.10M96.90 470.73H104.10M96.90 416.85H104.10M96.90 362.98H104.10M96.90 309.10H104.10M96.90 497.66H100.90M96.90 443.79H100.90M96.90 389.91H100.90M96.90 336.04H100.90" stroke="#222222" stroke-width="1.80" fill="none"/>
<rect x="96.90" y="309.10" width="268.70" height="215.50" stroke="#222222" stroke-width="1.80" fill="none"/>
<text transform="translate(77.53 315.60) scale(1.0000 1)" font-size="17.00" fill="#1c1c1c">4</text>
<text transform="translate(77.91 369.48) scale(1.0000 1)" font-size="17.00" fill="#1c1c1c">2</text>
<text transform="translate(77.70 423.35) scale(1.0000 1)" font-size="17.00" fill="#1c1c1c">0</text>
<text transform="translate(72.26 477.23) scale(1.0000 1)" font-size="17.00" fill="#1c1c1c">-2</text>
<text transform="translate(71.88 531.10) scale(1.0000 1)" font-size="17.00" fill="#1c1c1c">-4</text>
<text transform="translate(98.94 548.40) scale(1.0000 1)" font-size="17.00" fill="#1c1c1c">0.0</text>
<text transform="translate(155.67 548.40) scale(1.0000 1)" font-size="17.00" fill="#1c1c1c">0.2</text>
<text transform="translate(212.11 548.40) scale(1.0000 1)" font-size="17.00" fill="#1c1c1c">0.4</text>
<text transform="translate(268.86 548.40) scale(1.0000 1)" font-size="17.00" fill="#1c1c1c">0.6</text>
<text transform="translate(325.49 548.40) scale(1.0000 1)" font-size="17.00" fill="#1c1c1c">0.8</text>
<text transform="translate(171.16 570.80) scale(1.0634 1)" font-size="17.00" fill="#1c1c1c">Potential (V)</text>
<text transform="translate(13.32 313.00) scale(1.0632 1)" font-size="23.00" fill="#1c1c1c">(b)</text>
<text transform="translate(63.50 519.20) rotate(-90) scale(1.0950 1)" font-size="16.50" fill="#1c1c1c">Current Density (mA/cm<tspan font-size="12.00" dy="-8.00">2</tspan><tspan dy="8.00">)</tspan></text>
<text transform="translate(242.55 518.00) scale(1.0018 1)" font-size="23.00" fill="#35991F">HH-AC-700</text>
<text transform="translate(228.12 334.10) scale(1.0450 1)" font-size="17.00" fill="#1c1c1c">100 mV/s</text>
<text transform="translate(159.74 359.90) scale(1.0447 1)" font-size="17.00" fill="#1c1c1c">50 mV/s</text>
<text transform="translate(101.04 387.90) scale(1.0285 1)" font-size="17.00" fill="#1c1c1c">10 mV/s</text>
<text transform="translate(215.56 496.90) scale(1.0443 1)" font-size="17.00" fill="#1c1c1c">25 mV/s</text>
<text transform="translate(134.08 509.70) scale(1.0279 1)" font-size="17.00" fill="#1c1c1c">75 mV/s</text>
<path d="M270.40 338.70V349.90" stroke="#999" stroke-width="1.2"/>
<path d="M270.40 355.40L266.70 348.90L274.10 348.90Z" fill="#111"/>
<path d="M192.60 361.90V390.70" stroke="#999" stroke-width="1.2"/>
<path d="M192.60 396.20L188.90 389.70L196.30 389.70Z" fill="#111"/>
<path d="M119.60 389.50V418.70" stroke="#999" stroke-width="1.2"/>
<path d="M119.60 424.20L115.90 417.70L123.30 417.70Z" fill="#111"/>
<path d="M239.30 482.90V439.50" stroke="#999" stroke-width="1.2"/>
<path d="M239.30 434.00L235.60 440.50L243.00 440.50Z" fill="#111"/>
<path d="M165.50 495.70V477.90" stroke="#999" stroke-width="1.2"/>
<path d="M165.50 472.40L161.80 478.90L169.20 478.90Z" fill="#111"/>
<path d="M465.6 389.1L466.8 389.3L468.0 388.9L469.3 388.1L470.5 388.0L471.7 388.7L472.9 388.7L474.1 387.9L475.4 387.8L476.6 388.8L477.8 387.8L479.0 388.1L480.2 387.2L481.4 388.0L482.7 387.5L483.9 387.5L485.1 387.2L486.3 386.5L487.5 385.7L488.8 386.0L490.0 385.8L491.2 385.4L492.4 386.0L493.6 385.7L494.9 385.1L496.1 385.9L497.3 384.5L498.5 384.0L499.7 383.9L501.0 385.5L502.2 383.5L503.4 384.8L504.6 384.8L505.8 383.6L507.0 384.0L508.3 384.2L509.5 383.1L510.7 383.1L511.9 382.9L513.1 382.8L514.4 382.4L515.6 381.9L516.8 381.9L518.0 381.7L519.2 381.3L520.5 381.9L521.7 381.4L522.9 382.3L524.1 382.2L525.3 381.2L526.6 380.6L527.8 381.4L529.0 379.7L530.2 380.9L531.4 380.3L532.7 380.2L533.9 379.0L535.1 380.5L536.3 380.1L537.5 379.2L538.7 379.5L540.0 379.4L541.2 379.7L542.4 377.9L543.6 378.7L544.8 378.2L546.1 378.8L547.3 377.2L548.5 378.7L549.7 377.3L550.9 378.5L552.2 377.3L553.4 377.6L554.6 376.1L555.8 377.0L557.0 376.0L558.3 377.5L559.5 376.9L560.7 375.2L561.9 376.3L563.1 376.8L564.3 376.2L565.6 375.8L566.8 375.3L568.0 375.4L569.2 375.4L570.4 374.9L571.7 374.7L572.9 375.1L574.1 374.3L575.3 374.0L576.5 373.8L577.8 373.3L579.0 373.7L580.2 374.0L581.4 372.4L582.6 373.9L583.9 373.3L585.1 372.9L586.3 372.8L587.5 373.0L588.7 371.5L589.9 372.5L591.2 371.8L592.4 371.5L593.6 372.3L594.8 371.5L596.0 372.0L597.3 371.0L598.5 370.4L599.7 370.0L600.9 369.6L602.1 371.2L603.4 370.3L604.6 369.7L605.8 370.1L607.0 368.8L608.2 369.5L609.5 368.6L610.7 370.1L611.9 369.2L613.1 368.4L614.3 368.0L615.5 368.5L616.8 367.6L618.0 367.6L619.2 368.2L620.4 367.4L621.6 367.6L622.9 368.3L624.1 366.5L625.3 366.4L626.5 366.1L627.7 367.3L629.0 366.0L630.2 367.4L631.4 366.3L632.6 366.5L633.8 365.9L635.1 366.0L636.3 365.5L637.5 365.5L638.7 364.7L639.9 364.7L641.1 365.3L642.4 365.3L643.6 365.1L644.8 364.7L646.0 364.4L647.2 364.0L648.5 363.3L649.7 362.7L650.9 364.0L652.1 363.8L653.3 363.1L654.6 364.0L655.8 362.5L657.0 363.6L658.2 362.3L659.4 362.1L660.7 362.4L661.9 361.0L663.1 362.2L664.3 362.6L665.5 362.3L666.7 361.8L668.0 360.6L669.2 360.4L670.4 361.1L671.6 359.8L672.8 361.1L674.1 360.8L675.3 359.9L676.5 359.8L677.7 359.1L678.9 360.0L680.2 358.6L681.4 359.0L682.6 358.7L683.8 358.7L685.0 359.3L686.3 358.4L687.5 357.4L688.7 359.2L689.9 358.4L691.1 358.2L692.4 358.2L693.6 356.9L694.8 357.0L696.0 357.9L697.2 356.6L698.4 356.0L699.7 357.5L700.9 357.5L702.1 356.1L703.3 355.3L704.5 355.9L705.8 355.8L707.0 355.8L708.2 355.3L709.4 354.4L710.6 354.9L711.9 354.4L713.1 354.8L714.3 353.8L715.5 353.9L716.7 354.2L718.0 354.5L719.2 354.3L720.4 352.7L721.6 353.3L722.8 354.3L724.0 353.2L725.3 353.2L726.5 352.7L727.7 353.2L728.9 351.7L730.1 352.4L731.4 351.5L732.6 352.5L733.8 351.0" stroke="#0B1F0B" stroke-width="2.40" fill="none" stroke-linejoin="round" stroke-linecap="round"/>
<path d="M465.6 404.5L466.8 404.6L468.0 404.5L469.3 402.8L470.5 402.8L471.7 403.7L472.9 403.7L474.1 403.5L475.4 402.3L476.6 402.1L477.8 401.9L479.0 402.0L480.2 402.2L481.4 403.3L482.7 401.4L483.9 402.9L485.1 401.6L486.3 402.3L487.5 402.8L488.8 401.4L490.0 402.1L491.2 400.7L492.4 402.0L493.6 400.9L494.9 401.2L496.1 401.9L497.3 401.3L498.5 401.1L499.7 400.0L501.0 399.9L502.2 399.4L503.4 400.9L504.6 400.7L505.8 400.2L507.0 400.2L508.3 400.3L509.5 399.1L510.7 400.5L511.9 399.3L513.1 400.0L514.4 399.5L515.6 399.4L516.8 398.9L518.0 397.8L519.2 398.1L520.5 398.6L521.7 397.3L522.9 398.7L524.1 398.7L525.3 397.7L526.6 397.3L527.8 397.3L529.0 397.6L530.2 397.0L531.4 397.7L532.7 396.3L533.9 396.6L535.1 396.4L536.3 396.8L537.5 395.9L538.7 396.7L540.0 395.5L541.2 396.5L542.4 395.3L543.6 396.5L544.8 395.9L546.1 395.7L547.3 395.6L548.5 394.9L549.7 394.8L550.9 396.0L552.2 394.8L553.4 395.1L554.6 395.2L555.8 395.7L557.0 393.9L558.3 393.6L559.5 394.0L560.7 394.2L561.9 395.1L563.1 394.5L564.3 394.3L565.6 394.7L566.8 394.0L568.0 393.9L569.2 393.7L570.4 394.3L571.7 394.0L572.9 392.2L574.1 392.9L575.3 393.4L576.5 392.8L577.8 392.9L579.0 392.5L580.2 393.0L581.4 391.7L582.6 391.2L583.9 391.7L585.1 390.9L586.3 391.1L587.5 391.5L588.7 391.5L589.9 391.0L591.2 391.5L592.4 392.0L593.6 391.1L594.8 390.2L596.0 390.4L597.3 391.6L598.5 389.8L599.7 391.3L600.9 390.2L602.1 390.8L603.4 390.4L604.6 390.4L605.8 389.5L607.0 389.2L608.2 388.7L609.5 389.4L610.7 390.2L611.9 390.1L613.1 389.8L614.3 389.6L615.5 389.4L616.8 389.0L618.0 389.2L619.2 387.6L620.4 388.5L621.6 388.1L622.9 387.4L624.1 388.5L625.3 387.7L626.5 388.5L627.7 387.5L629.0 386.5L630.2 387.1L631.4 387.5L632.6 386.7L633.8 386.8L635.1 386.7L636.3 386.3L637.5 386.0L638.7 385.5L639.9 385.2L641.1 385.1L642.4 385.3L643.6 385.5L644.8 385.1L646.0 386.2L647.2 386.1L648.5 384.6L649.7 385.3L650.9 386.1L652.1 384.4L653.3 385.6L654.6 385.2L655.8 383.7L657.0 385.1L658.2 383.6L659.4 384.7L660.7 383.5L661.9 384.2L663.1 383.7L664.3 383.3L665.5 383.1L666.7 384.0L668.0 383.0L669.2 383.9L670.4 383.6L671.6 382.4L672.8 383.5L674.1 382.9L675.3 383.4L676.5 382.3L677.7 383.0L678.9 382.5L680.2 381.1L681.4 382.0L682.6 381.8L683.8 382.6L685.0 382.0L686.3 382.2L687.5 381.0L688.7 381.9L689.9 381.7L691.1 381.7L692.4 380.3L693.6 380.3L694.8 381.0L696.0 380.8L697.2 380.7L698.4 380.1L699.7 379.9L700.9 380.7L702.1 380.5L703.3 379.4L704.5 380.0L705.8 379.1L707.0 379.9L708.2 380.0L709.4 379.9L710.6 378.2L711.9 378.7L713.1 379.6L714.3 378.8L715.5 378.1L716.7 378.8L718.0 377.5L719.2 379.0L720.4 377.8L721.6 377.6L722.8 378.3L724.0 376.5L725.3 377.3L726.5 378.0L727.7 376.6L728.9 378.0L730.1 376.5L731.4 376.1L732.6 376.3L733.8 377.5" stroke="#0B4A14" stroke-width="2.40" fill="none" stroke-linejoin="round" stroke-linecap="round"/>
<path d="M465.6 425.6L466.8 426.6L468.0 426.4L469.3 425.5L470.5 425.6L471.7 426.7L472.9 425.6L474.1 424.9L475.4 426.0L476.6 425.6L477.8 425.3L479.0 425.1L480.2 425.7L481.4 425.7L482.7 426.0L483.9 425.0L485.1 425.5L486.3 424.5L487.5 426.0L488.8 424.4L490.0 425.6L491.2 424.0L492.4 424.1L493.6 424.9L494.9 425.4L496.1 425.1L497.3 425.0L498.5 423.3L499.7 423.6L501.0 425.2L502.2 425.1L503.4 423.9L504.6 424.0L505.8 423.8L507.0 423.1L508.3 423.0L509.5 424.4L510.7 422.6L511.9 423.6L513.1 423.5L514.4 424.1L515.6 423.8L516.8 423.8L518.0 423.6L519.2 422.9L520.5 423.5L521.7 423.4L522.9 423.6L524.1 423.6L525.3 421.8L526.6 422.7L527.8 422.6L529.0 423.2L530.2 421.3L531.4 423.3L532.7 421.6L533.9 423.1L535.1 422.5L536.3 422.0L537.5 422.0L538.7 421.4L540.0 421.6L541.2 421.2L542.4 422.5L543.6 421.9L544.8 421.9L546.1 421.4L547.3 421.4L548.5 422.0L549.7 421.9L550.9 421.9L552.2 421.9L553.4 420.6L554.6 419.8L555.8 420.5L557.0 421.3L558.3 420.3L559.5 420.5L560.7 420.9L561.9 419.7L563.1 420.8L564.3 420.6L565.6 421.1L566.8 420.6L568.0 419.1L569.2 419.9L570.4 419.3L571.7 419.7L572.9 420.1L574.1 419.9L575.3 419.5L576.5 419.8L577.8 419.3L579.0 420.2L580.2 419.4L581.4 419.9L582.6 419.1L583.9 418.9L585.1 418.0L586.3 418.0L587.5 417.9L588.7 418.8L589.9 419.0L591.2 417.8L592.4 419.2L593.6 418.6L594.8 419.2L596.0 417.5L597.3 417.6L598.5 417.2L599.7 418.6L600.9 417.2L602.1 417.4L603.4 417.6L604.6 417.8L605.8 417.0L607.0 417.6L608.2 416.5L609.5 416.5L610.7 417.6L611.9 417.2L613.1 417.3L614.3 416.3L615.5 416.3L616.8 417.1L618.0 417.1L619.2 417.2L620.4 416.4L621.6 416.3L622.9 416.3L624.1 416.5L625.3 416.1L626.5 417.4L627.7 416.3L629.0 415.8L630.2 415.7L631.4 415.4L632.6 416.6L633.8 415.0L635.1 414.9L636.3 415.5L637.5 415.0L638.7 416.3L639.9 416.2L641.1 416.1L642.4 415.3L643.6 414.5L644.8 415.6L646.0 414.3L647.2 414.4L648.5 416.0L649.7 415.9L650.9 413.9L652.1 414.8L653.3 414.2L654.6 413.9L655.8 415.0L657.0 415.5L658.2 413.7L659.4 413.5L660.7 414.5L661.9 413.9L663.1 415.2L664.3 413.2L665.5 413.8L666.7 413.0L668.0 413.5L669.2 414.1L670.4 414.4L671.6 413.6L672.8 412.8L674.1 413.4L675.3 413.4L676.5 413.9L677.7 414.0L678.9 413.8L680.2 413.6L681.4 413.1L682.6 412.1L683.8 413.4L685.0 413.4L686.3 412.3L687.5 411.8L688.7 413.2L689.9 413.0L691.1 412.7L692.4 413.3L693.6 413.2L694.8 412.2L696.0 412.7L697.2 412.7L698.4 411.4L699.7 412.0L700.9 411.8L702.1 411.5L703.3 411.3L704.5 410.8L705.8 410.6L707.0 412.3L708.2 411.0L709.4 412.4L710.6 412.1L711.9 411.8L713.1 411.9L714.3 411.8L715.5 411.6L716.7 410.3L718.0 410.3L719.2 410.8L720.4 410.6L721.6 410.2L722.8 410.4L724.0 411.4L725.3 410.5L726.5 411.0L727.7 410.4L728.9 409.2L730.1 410.8L731.4 410.5L732.6 409.8L733.8 409.6" stroke="#157A1E" stroke-width="2.40" fill="none" stroke-linejoin="round" stroke-linecap="round"/>
<path d="M465.6 462.4L466.8 462.2L468.0 462.5L469.3 463.6L470.5 462.0L471.7 461.8L472.9 463.3L474.1 462.8L475.4 461.6L476.6 461.6L477.8 461.9L479.0 461.8L480.2 463.2L481.4 461.7L482.7 461.8L483.9 463.0L485.1 461.6L486.3 461.7L487.5 461.5L488.8 461.5L490.0 463.2L491.2 463.0L492.4 461.7L493.6 463.0L494.9 462.6L496.1 461.6L497.3 461.5L498.5 462.4L499.7 462.4L501.0 461.8L502.2 461.1L503.4 461.9L504.6 462.4L505.8 462.6L507.0 462.7L508.3 461.8L509.5 461.6L510.7 462.6L511.9 461.5L513.1 461.8L514.4 461.8L515.6 461.9L516.8 462.1L518.0 462.9L519.2 461.8L520.5 461.6L521.7 461.1L522.9 460.9L524.1 461.5L525.3 462.5L526.6 461.1L527.8 462.0L529.0 460.8L530.2 460.8L531.4 462.6L532.7 462.6L533.9 462.6L535.1 461.3L536.3 461.7L537.5 461.4L538.7 462.0L540.0 461.4L541.2 462.4L542.4 462.2L543.6 461.1L544.8 462.1L546.1 462.3L547.3 461.2L548.5 460.5L549.7 460.6L550.9 460.6L552.2 461.0L553.4 462.4L554.6 462.1L555.8 461.2L557.0 461.3L558.3 460.6L559.5 462.3L560.7 461.0L561.9 462.2L563.1 460.7L564.3 462.1L565.6 461.2L566.8 460.6L568.0 460.2L569.2 460.6L570.4 460.6L571.7 461.5L572.9 460.8L574.1 461.0L575.3 461.1L576.5 460.9L577.8 461.2L579.0 461.3L580.2 460.5L581.4 460.7L582.6 460.0L583.9 460.1L585.1 460.3L586.3 461.7L587.5 460.9L588.7 460.9L589.9 460.3L591.2 460.0L592.4 461.5L593.6 461.8L594.8 460.0L596.0 459.8L597.3 461.1L598.5 460.5L599.7 461.0L600.9 460.9L602.1 460.4L603.4 460.2L604.6 459.7L605.8 460.8L607.0 460.5L608.2 460.6L609.5 459.4L610.7 460.4L611.9 459.5L613.1 459.4L614.3 461.3L615.5 459.7L616.8 461.0L618.0 460.2L619.2 459.9L620.4 461.0L621.6 459.9L622.9 459.7L624.1 460.3L625.3 459.9L626.5 460.2L627.7 460.6L629.0 460.4L630.2 458.9L631.4 459.5L632.6 459.7L633.8 459.1L635.1 459.0L636.3 459.2L637.5 459.9L638.7 459.5L639.9 459.9L641.1 460.4L642.4 458.6L643.6 460.3L644.8 459.7L646.0 458.7L647.2 459.8L648.5 458.5L649.7 460.3L650.9 460.0L652.1 459.3L653.3 458.9L654.6 458.6L655.8 458.3L657.0 458.4L658.2 459.7L659.4 458.0L660.7 459.9L661.9 459.0L663.1 459.2L664.3 459.9L665.5 459.5L666.7 457.8L668.0 457.8L669.2 459.1L670.4 457.7L671.6 458.2L672.8 459.6L674.1 458.4L675.3 459.2L676.5 459.0L677.7 458.1L678.9 459.1L680.2 458.7L681.4 459.4L682.6 458.7L683.8 458.7L685.0 459.1L686.3 459.1L687.5 458.4L688.7 459.1L689.9 457.3L691.1 458.6L692.4 458.4L693.6 459.0L694.8 457.4L696.0 458.6L697.2 458.8L698.4 458.2L699.7 457.0L700.9 457.0L702.1 457.9L703.3 457.6L704.5 458.6L705.8 456.9L707.0 457.2L708.2 458.2L709.4 456.9L710.6 458.3L711.9 457.6L713.1 458.0L714.3 457.3L715.5 458.0L716.7 457.3L718.0 457.9L719.2 458.3L720.4 458.1L721.6 456.7L722.8 457.3L724.0 457.2L725.3 456.8L726.5 457.6L727.7 457.7L728.9 457.3L730.1 456.5L731.4 456.5L732.6 457.0L733.8 456.7" stroke="#1DA52A" stroke-width="2.40" fill="none" stroke-linejoin="round" stroke-linecap="round"/>
<path d="M465.6 496.3L466.8 495.8L468.0 495.3L469.3 496.6L470.5 496.4L471.7 496.2L472.9 496.6L474.1 496.0L475.4 495.2L476.6 496.6L477.8 495.4L479.0 495.2L480.2 496.0L481.4 496.3L482.7 496.8L483.9 495.9L485.1 495.3L486.3 496.2L487.5 496.5L488.8 495.3L490.0 496.6L491.2 495.8L492.4 495.4L493.6 495.9L494.9 496.3L496.1 495.7L497.3 496.2L498.5 495.5L499.7 495.2L501.0 495.2L502.2 495.3L503.4 496.6L504.6 496.3L505.8 495.5L507.0 495.5L508.3 495.0L509.5 495.9L510.7 496.7L511.9 496.6L513.1 496.7L514.4 495.7L515.6 496.1L516.8 496.7L518.0 494.9L519.2 496.6L520.5 496.0L521.7 495.1L522.9 495.3L524.1 496.2L525.3 494.7L526.6 495.7L527.8 495.0L529.0 495.8L530.2 495.3L531.4 494.7L532.7 496.5L533.9 495.4L535.1 495.4L536.3 494.6L537.5 495.3L538.7 496.0L540.0 496.3L541.2 495.4L542.4 496.2L543.6 495.8L544.8 494.5L546.1 496.1L547.3 496.1L548.5 495.1L549.7 495.4L550.9 494.6L552.2 495.8L553.4 494.9L554.6 495.6L555.8 494.4L557.0 494.5L558.3 496.0L559.5 495.6L560.7 495.4L561.9 495.4L563.1 495.1L564.3 494.9L565.6 496.0L566.8 495.0L568.0 494.6L569.2 495.5L570.4 495.7L571.7 495.8L572.9 495.0L574.1 496.0L575.3 495.8L576.5 495.6L577.8 494.8L579.0 494.7L580.2 495.1L581.4 495.9L582.6 495.5L583.9 496.1L585.1 494.1L586.3 495.2L587.5 494.4L588.7 495.6L589.9 495.6L591.2 495.8L592.4 495.3L593.6 494.7L594.8 495.0L596.0 495.4L597.3 495.8L598.5 495.5L599.7 494.5L600.9 495.7L602.1 494.0L603.4 494.3L604.6 495.7L605.8 496.0L607.0 494.3L608.2 495.9L609.5 494.6L610.7 494.9L611.9 495.1L613.1 494.8L614.3 495.9L615.5 494.4L616.8 494.2L618.0 495.9L619.2 495.3L620.4 494.2L621.6 495.5L622.9 495.6L624.1 494.2L625.3 493.8L626.5 493.8L627.7 495.5L629.0 495.6L630.2 495.8L631.4 495.6L632.6 495.1L633.8 493.8L635.1 494.2L636.3 495.4L637.5 495.0L638.7 494.6L639.9 495.4L641.1 495.6L642.4 495.4L643.6 495.1L644.8 495.7L646.0 493.7L647.2 493.7L648.5 494.7L649.7 494.8L650.9 494.5L652.1 494.0L653.3 494.8L654.6 493.8L655.8 493.7L657.0 495.1L658.2 494.4L659.4 493.7L660.7 495.0L661.9 493.6L663.1 494.6L664.3 494.2L665.5 495.4L666.7 494.8L668.0 494.2L669.2 495.1L670.4 493.5L671.6 494.7L672.8 494.4L674.1 493.9L675.3 494.9L676.5 494.1L677.7 494.0L678.9 493.9L680.2 494.8L681.4 494.8L682.6 494.3L683.8 494.5L685.0 494.5L686.3 494.3L687.5 493.9L688.7 495.1L689.9 495.0L691.1 495.1L692.4 494.3L693.6 495.0L694.8 493.5L696.0 495.0L697.2 494.4L698.4 493.8L699.7 494.8L700.9 495.2L702.1 494.9L703.3 493.9L704.5 494.6L705.8 493.4L707.0 495.0L708.2 494.7L709.4 494.3L710.6 494.6L711.9 494.7L713.1 495.0L714.3 494.2L715.5 493.7L716.7 494.5L718.0 493.2L719.2 493.9L720.4 494.5L721.6 494.4L722.8 494.6L724.0 495.0L725.3 494.2L726.5 494.1L727.7 493.5L728.9 495.0L730.1 495.1L731.4 493.2L732.6 494.4L733.8 493.6" stroke="#22DD22" stroke-width="2.40" fill="none" stroke-linejoin="round" stroke-linecap="round"/>
<path d="M599.70 350.30V524.00" stroke="#333" stroke-width="1.6" stroke-dasharray="7.5 6.9"/>
<circle cx="599.70" cy="370.72" r="5.40" fill="url(#ggs)"/>
<circle cx="599.70" cy="390.38" r="5.40" fill="url(#ggs)"/>
<circle cx="599.70" cy="417.96" r="5.40" fill="url(#ggs)"/>
<circle cx="599.70" cy="460.72" r="5.40" fill="url(#ggs)"/>
<circle cx="599.70" cy="495.02" r="5.40" fill="url(#ggs)"/>
<path d="M465.60 523.90V516.70M599.70 523.90V516.70M733.80 523.90V516.70M532.65 523.90V519.90M666.75 523.90V519.90M465.60 523.90H472.80M465.60 480.80H472.80M465.60 437.70H472.80M465.60 394.60H472.80M465.60 351.50H472.80M465.60 308.40H472.80M465.60 502.35H469.60M465.60 459.25H469.60M465.60 416.15H469.60M465.60 373.05H469.60M465.60 329.95H469.60" stroke="#222222" stroke-width="1.80" fill="none"/>
<rect x="465.60" y="308.40" width="268.20" height="215.50" stroke="#222222" stroke-width="1.80" fill="none"/>
<text transform="translate(434.31 529.90) scale(1.0000 1)" font-size="17.00" fill="#1c1c1c">0.0</text>
<text transform="translate(434.35 486.80) scale(1.0000 1)" font-size="17.00" fill="#1c1c1c">0.5</text>
<text transform="translate(434.31 443.70) scale(1.0000 1)" font-size="17.00" fill="#1c1c1c">1.0</text>
<text transform="translate(434.35 400.60) scale(1.0000 1)" font-size="17.00" fill="#1c1c1c">1.5</text>
<text transform="translate(434.31 357.50) scale(1.0000 1)" font-size="17.00" fill="#1c1c1c">2.0</text>
<text transform="translate(434.35 314.40) scale(1.0000 1)" font-size="17.00" fill="#1c1c1c">2.5</text>
<text transform="translate(449.05 544.80) scale(1.0000 1)" font-size="17.00" fill="#1c1c1c">0.40</text>
<text transform="translate(583.17 544.80) scale(1.0000 1)" font-size="17.00" fill="#1c1c1c">0.45</text>
<text transform="translate(717.25 544.80) scale(1.0000 1)" font-size="17.00" fill="#1c1c1c">0.50</text>
<text transform="translate(554.66 565.00) scale(1.0601 1)" font-size="17.00" fill="#1c1c1c">Potential (V)</text>
<text transform="translate(375.32 311.20) scale(1.0632 1)" font-size="23.00" fill="#1c1c1c">(d)</text>
<text transform="translate(426.00 518.11) rotate(-90) scale(1.1000 1)" font-size="16.50" fill="#1c1c1c">Current Density (mA/cm<tspan font-size="12.00" dy="-8.00">2</tspan><tspan dy="8.00">)</tspan></text>
<text transform="translate(611.15 518.50) scale(1.0009 1)" font-size="23.00" fill="#35991F">HH-AC-700</text>
<text transform="translate(652.23 346.00) scale(1.0378 1)" font-size="17.00" fill="#1c1c1c">100 mV/s</text>
<text transform="translate(660.57 377.00) scale(1.0344 1)" font-size="17.00" fill="#1c1c1c">75 mV/s</text>
<text transform="translate(660.74 407.00) scale(1.0463 1)" font-size="17.00" fill="#1c1c1c">50 mV/s</text>
<text transform="translate(659.96 450.50) scale(1.0443 1)" font-size="17.00" fill="#1c1c1c">25 mV/s</text>
<text transform="translate(661.04 487.40) scale(1.0268 1)" font-size="17.00" fill="#1c1c1c">10 mV/s</text>
<circle cx="853.44" cy="475.10" r="8.40" fill="url(#gg)"/>
<circle cx="890.09" cy="444.79" r="8.40" fill="url(#gg)"/>
<circle cx="962.67" cy="397.55" r="8.40" fill="url(#gg)"/>
<circle cx="1017.89" cy="357.76" r="8.40" fill="url(#gg)"/>
<circle cx="1065.79" cy="325.62" r="8.40" fill="url(#gg)"/>
<path d="M853.8 472.8L1066.4 324.0" stroke="#0C700C" stroke-width="3.2" stroke-linecap="round"/>
<path d="M829.00 524.60V517.40M877.87 524.60V517.40M926.75 524.60V517.40M975.62 524.60V517.40M1024.49 524.60V517.40M1073.36 524.60V517.40M853.44 524.60V520.60M902.31 524.60V520.60M951.18 524.60V520.60M1000.05 524.60V520.60M1048.93 524.60V520.60M829.00 524.60H836.20M829.00 470.68H836.20M829.00 416.75H836.20M829.00 362.82H836.20M829.00 308.90H836.20M829.00 497.64H833.00M829.00 443.71H833.00M829.00 389.79H833.00M829.00 335.86H833.00" stroke="#222222" stroke-width="1.80" fill="none"/>
<rect x="829.00" y="308.90" width="268.80" height="215.70" stroke="#222222" stroke-width="1.80" fill="none"/>
<text transform="translate(799.51 531.40) scale(1.0000 1)" font-size="17.00" fill="#1c1c1c">0.0</text>
<text transform="translate(799.55 477.48) scale(1.0000 1)" font-size="17.00" fill="#1c1c1c">0.5</text>
<text transform="translate(799.51 423.55) scale(1.0000 1)" font-size="17.00" fill="#1c1c1c">1.0</text>
<text transform="translate(799.55 369.62) scale(1.0000 1)" font-size="17.00" fill="#1c1c1c">1.5</text>
<text transform="translate(799.51 315.70) scale(1.0000 1)" font-size="17.00" fill="#1c1c1c">2.0</text>
<text transform="translate(824.26 544.50) scale(1.0000 1)" font-size="17.00" fill="#1c1c1c">0</text>
<text transform="translate(868.33 544.50) scale(1.0000 1)" font-size="17.00" fill="#1c1c1c">20</text>
<text transform="translate(917.44 544.50) scale(1.0000 1)" font-size="17.00" fill="#1c1c1c">40</text>
<text transform="translate(966.08 544.50) scale(1.0000 1)" font-size="17.00" fill="#1c1c1c">60</text>
<text transform="translate(1015.01 544.50) scale(1.0000 1)" font-size="17.00" fill="#1c1c1c">80</text>
<text transform="translate(1058.87 544.50) scale(1.0000 1)" font-size="17.00" fill="#1c1c1c">100</text>
<text transform="translate(884.13 566.70) scale(1.0775 1)" font-size="17.00" fill="#1c1c1c">Scan Rate (mV/s)</text>
<text transform="translate(756.70 310.70) scale(1.0817 1)" font-size="23.00" fill="#1c1c1c">(f)</text>
<text transform="translate(788.00 474.60) rotate(-90) scale(1.0300 1)" font-size="17.00" fill="#1c1c1c">J<tspan font-size="12.00" dy="5.00">CC</tspan><tspan dy="-5.00"> (mA/cm</tspan><tspan font-size="12.00" dy="-7.50">2</tspan><tspan dy="7.50">)</tspan></text>
<text transform="translate(973.35 514.60) scale(1.0009 1)" font-size="23.00" fill="#35991F">HH-AC-700</text>
<text transform="translate(947.50 443.20) scale(1.0029 1)" font-size="17.50" fill="#1c1c1c">Potential at 0.45 V</text>
<text transform="translate(889.00 432.00) rotate(-32.50) scale(1.0000 1)" font-size="17.70" fill="#1c1c1c">C<tspan font-size="12.00" dy="4">NF</tspan><tspan dy="-4">= 1.57 mF/cm</tspan><tspan font-size="12.00" dy="-7">2</tspan></text>
</svg></body></html>
